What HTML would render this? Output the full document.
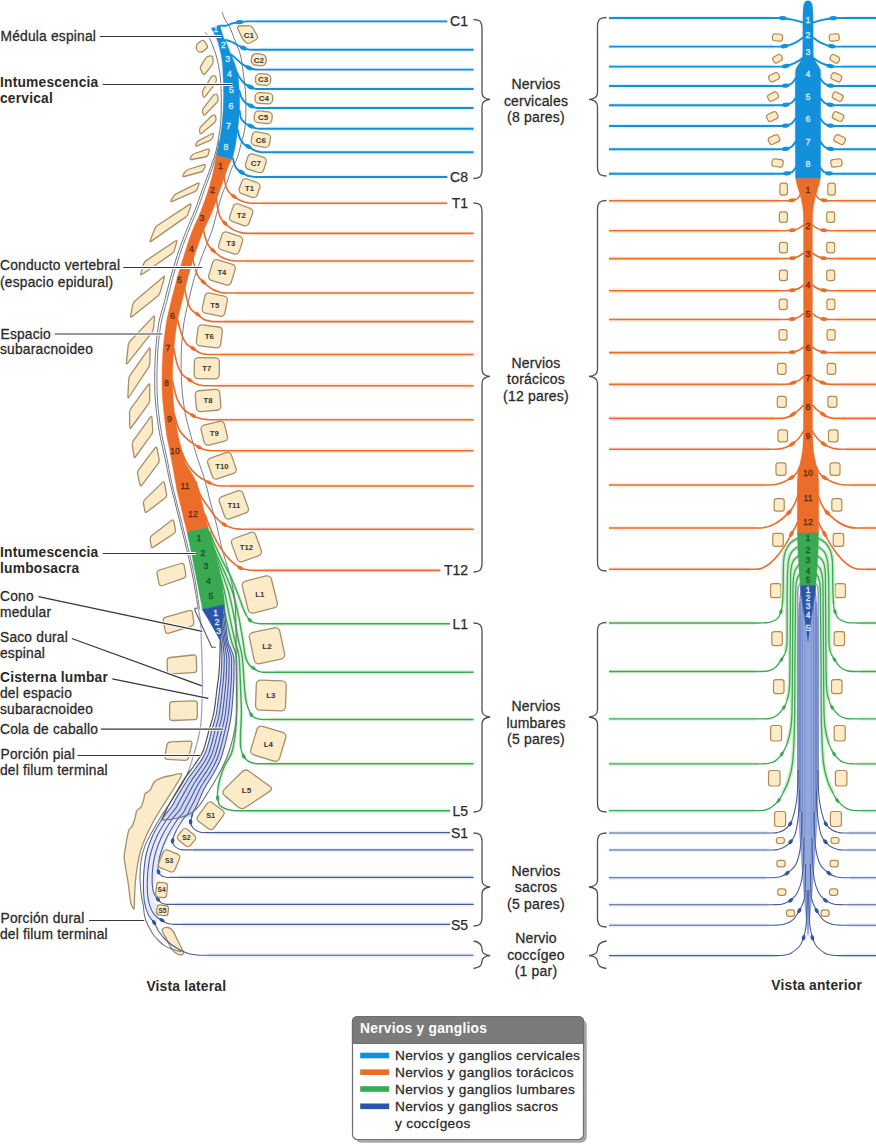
<!DOCTYPE html>
<html><head><meta charset="utf-8"><title>Medula espinal</title>
<style>
html,body{margin:0;padding:0;background:#fff;}
body{width:876px;height:1147px;overflow:hidden;font-family:"Liberation Sans",sans-serif;}
svg{display:block;font-family:"Liberation Sans",sans-serif;}
</style></head><body>
<svg width="876" height="1147" viewBox="0 0 876 1147">
<rect width="876" height="1147" fill="#ffffff"/>
<path d="M196.4 46.6Q196.5 44.2 198.5 42.9L201.5 40.8Q203.5 39.5 204.7 41.6L207 45.4Q208.2 47.5 206.2 48.9L202.8 51.4Q200.8 52.8 198.7 51.8L198.3 51.5Q196.2 50.5 196.3 48.1Z" fill="#fcebc9" stroke="#a3906a" stroke-width="1.3" />
<path d="M205.3 58.6Q206.5 56.5 208.9 56.1L210.1 55.9Q212.5 55.5 212.8 57.9L213.1 60.6Q213.4 63 212 64.9L205.4 73.6Q204 75.5 202.8 73.4L200.9 70.1Q199.7 68 200.9 65.9Z" fill="#fcebc9" stroke="#a3906a" stroke-width="1.3" />
<path d="M210.9 77.7Q212.2 75.7 213.7 75.7L214.1 75.7Q215.6 75.7 216.1 78L216.3 79.1Q216.8 81.4 215.3 83.3L205.2 96.6Q203.7 98.5 203.1 96.2L202.6 93.9Q202 91.6 203.3 89.6Z" fill="#fcebc9" stroke="#a3906a" stroke-width="1.3" />
<path d="M212.7 96.2Q214.2 94.3 215.6 94.2L216 94.1Q217.4 94 217.8 96.4L218.1 98.4Q218.5 100.8 216.8 102.5L205.4 114.5Q203.7 116.2 203.1 113.9L202.6 112.3Q202 110 203.5 108.1Z" fill="#fcebc9" stroke="#a3906a" stroke-width="1.3" />
<path d="M210.6 117Q212.3 115.3 213.8 115.2L214.1 115.1Q215.6 115 215.8 117.4L216 118.9Q216.2 121.3 214.3 122.8L202.1 133Q200.2 134.5 199.8 132.1L199.6 130.9Q199.2 128.5 200.9 126.8Z" fill="#fcebc9" stroke="#a3906a" stroke-width="1.3" />
<path d="M211.8 133.7Q213.9 132.6 213.3 134.9L212.8 137.1Q212.2 139.4 210 140.4L197.3 145.8Q195.1 146.8 195.9 144.5L196 144Q196.8 141.7 198.9 140.6Z" fill="#fcebc9" stroke="#a3906a" stroke-width="1.3" />
<path d="M207.6 149.2Q209.9 148.5 209.2 150.8L208.3 154.2Q207.6 156.5 205.2 157L191.8 159.5Q189.4 160 190.4 157.8L191.2 156.4Q192.2 154.2 194.5 153.5Z" fill="#fcebc9" stroke="#a3906a" stroke-width="1.3" />
<path d="M203.6 164.7Q205.9 164 205.1 166.2L203.9 169.2Q203.1 171.4 200.8 172L184.2 176.5Q181.9 177.1 183.1 175L184.7 172.3Q185.9 170.2 188.2 169.5Z" fill="#fcebc9" stroke="#a3906a" stroke-width="1.3" />
<path d="M197.5 183.3Q199.6 182.2 198.9 184.5L197.5 188.5Q196.8 190.8 194.6 191.7L172.2 201.3Q170 202.2 171.2 200.1L173.3 196.9Q174.5 194.8 176.6 193.7Z" fill="#fcebc9" stroke="#a3906a" stroke-width="1.3" />
<path d="M189.6 204.4Q191.6 203.1 190.9 205.4L188.3 213.4Q187.6 215.7 185.6 217.1L151.4 241.1Q149.4 242.5 150.3 240.3L154.8 228.7Q155.7 226.5 157.7 225.2Z" fill="#fcebc9" stroke="#a3906a" stroke-width="1.3" />
<path d="M175.4 241Q177.4 239.7 176.8 242L174.5 249.9Q173.9 252.2 171.9 253.6L142.3 274.2Q140.3 275.6 141 273.3L143.5 264.2Q144.2 261.9 146.2 260.6Z" fill="#fcebc9" stroke="#a3906a" stroke-width="1.3" />
<path d="M163.3 276.9Q165.1 275.3 164.4 277.6L160.1 292.4Q159.4 294.7 157.5 296.2L132.2 316.6Q130.3 318.1 130.7 315.7L132.7 305.1Q133.1 302.7 134.9 301.1Z" fill="#fcebc9" stroke="#a3906a" stroke-width="1.3" />
<path d="M153.1 316.9Q154.8 315.2 154.5 317.6L153.4 328.6Q153.1 331 151.6 332.9L127.7 363.1Q126.2 365 126.4 362.6L128.2 345.4Q128.4 343 130.1 341.3Z" fill="#fcebc9" stroke="#a3906a" stroke-width="1.3" />
<path d="M148.9 348.7Q150.3 346.7 150.2 349.1L149.8 363.2Q149.7 365.6 148.4 367.6L129.1 397Q127.8 399 127.9 396.6L128.7 379.5Q128.8 377.1 130.2 375.1Z" fill="#fcebc9" stroke="#a3906a" stroke-width="1.3" />
<path d="M148.3 384.7Q149.7 382.8 149.7 385.2L149.7 399.8Q149.7 402.2 148.3 404.1L131.3 427.5Q129.9 429.4 129.8 427L129.5 412.9Q129.4 410.5 130.8 408.6Z" fill="#fcebc9" stroke="#a3906a" stroke-width="1.3" />
<path d="M150.4 417.2Q151.8 415.3 152 417.7L152.7 430.1Q152.9 432.5 151.5 434.5L135.7 456.5Q134.3 458.5 134 456.1L132.3 444.9Q132 442.5 133.4 440.6Z" fill="#fcebc9" stroke="#a3906a" stroke-width="1.3" />
<path d="M155.1 447.9Q156.5 446 157 448.4L159.1 459.1Q159.6 461.5 158.2 463.4L141.9 485.1Q140.5 487 140 484.7L137.6 474.1Q137.1 471.8 138.5 469.9Z" fill="#fcebc9" stroke="#a3906a" stroke-width="1.3" />
<path d="M162.3 482.6Q164 480.9 164.5 483.3L166.6 494.2Q167.1 496.6 165.2 498.1L147.1 511.8Q145.2 513.3 144.8 510.9L143.5 503.7Q143.1 501.3 144.8 499.6Z" fill="#fcebc9" stroke="#a3906a" stroke-width="1.3" />
<path d="M171.5 520.5Q173.4 519.1 173.9 521.5L175.5 529.8Q176 532.2 174 533.5L153.4 547.1Q151.4 548.4 151.1 546L150.2 539.3Q149.9 536.9 151.8 535.5Z" fill="#fcebc9" stroke="#a3906a" stroke-width="1.3" />
<path d="M157.1 574Q156.5 570.9 159.6 570L180.6 563.5Q183.7 562.6 184.3 565.8L185.7 574Q186.3 577.2 183.3 578.3L162.6 585.5Q159.6 586.6 159 583.5Z" fill="#fcebc9" stroke="#a3906a" stroke-width="1.3" />
<path d="M163.4 621.1Q162.8 618 165.9 617.1L189 610.5Q192.1 609.6 192.5 612.8L193.8 622.1Q194.2 625.3 191.1 626.3L169 633.2Q165.9 634.2 165.3 631.1Z" fill="#fcebc9" stroke="#a3906a" stroke-width="1.3" />
<path d="M167.1 661Q167 657.8 170.2 657.5L193.1 655Q196.3 654.7 196.4 657.9L196.7 669.3Q196.8 672.5 193.6 672.7L170.7 673.8Q167.5 674 167.4 670.8Z" fill="#fcebc9" stroke="#a3906a" stroke-width="1.3" />
<path d="M169.6 705Q169.6 701.8 172.8 701.7L194.1 700.8Q197.3 700.7 197.3 703.9L197.3 716.4Q197.3 719.6 194.1 719.7L172.8 720.5Q169.6 720.6 169.6 717.4Z" fill="#fcebc9" stroke="#a3906a" stroke-width="1.3" />
<path d="M166.9 745.1Q167.5 742 170.7 741.9L189.4 741.1Q192.6 741 191.8 744.1L188.7 757.3Q187.9 760.4 184.7 760.3L167.6 759.4Q164.4 759.3 165 756.2Z" fill="#fcebc9" stroke="#a3906a" stroke-width="1.3" />
<path d="M181.7 774.2C182 775.9 176.2 784.7 173.9 788.5C171.6 792.3 167.3 798.7 164.7 802.9C162.1 807.1 156.6 815.6 154.2 820C151.8 824.4 148.2 831.4 146.4 835.6C144.6 839.8 141.7 847.1 140.5 851.3C139.3 855.5 137.9 862.8 137.2 867C136.5 871.2 135.6 878.9 135.3 882.7C135 886.5 134.8 892.3 134.6 895.8C134.4 899.3 134.5 908 134 908.9C133.5 909.8 131.5 905.9 130.7 902.4C129.9 898.9 128.8 887.4 128.1 882.7C127.4 878 126 870.5 125.5 867C125 863.5 124.1 859.7 124.2 856.6C124.3 853.5 125.5 847 126.1 843.5C126.7 840 127.9 832.7 128.7 830.4C129.5 828.1 131.1 828.2 132 826.5C132.9 824.8 134.7 819.4 135.3 817.3C135.9 815.2 135.8 812.2 136.6 810.8C137.4 809.4 140.2 808.5 141.2 806.9C142.2 805.3 143.3 800.7 143.8 799C144.3 797.3 144.2 795 145.1 793.8C146 792.6 149.1 791.5 150.3 789.9C151.5 788.3 152.8 783.6 154.2 782C155.6 780.4 158.5 779 160.8 778.1C163.1 777.2 168.5 776 171.3 775.5C174.1 775 181.4 772.5 181.7 774.2Z" fill="#fcebc9" stroke="#a3906a" stroke-width="1.3" />
<path d="M163 928.5C163.7 927.9 166.7 927.2 168 927.5C169.3 927.8 171.8 929.5 173 931C174.2 932.5 175.9 936.9 177 939C178.1 941.1 180.1 945.2 181 947C181.9 948.8 183.4 951.4 183.5 952.5C183.6 953.6 182.6 955 181.5 955C180.4 955 176.5 953.7 175 952.5C173.5 951.3 171.2 947.9 170 946C168.8 944.1 167 939.9 166 938C165 936.1 162.9 933.3 162.5 932C162.1 930.7 162.3 929.1 163 928.5Z" fill="#fcebc9" stroke="#a3906a" stroke-width="1.3" />
<path d="M215 545C216.2 547.5 219.5 555 222 560C224.5 565 227.3 569.5 229.9 575C232.5 580.5 235.2 587.3 237.4 592.8C239.6 598.3 241.5 604.2 243 608C244.5 611.8 245.9 614.2 246.5 615.5" fill="none" stroke="#d6efd6" stroke-width="3.6" />
<path d="M214.2 548.5C215.2 550.8 217.8 557.1 220 562C222.2 566.9 225 572.9 227.1 578C229.2 583.1 230.9 586.5 232.8 592.8C234.7 599.1 236.8 607.7 238.5 615.7C240.2 623.7 241.8 634.1 243 641C244.2 647.9 244.5 653.1 245.5 657C246.5 660.9 248.4 663.2 249 664.5" fill="none" stroke="#d6efd6" stroke-width="3.6" />
<path d="M213.8 550C214.6 552.2 216.7 558 218.5 563C220.3 568 222.8 575 224.5 580C226.2 585 227.2 586.8 228.8 592.8C230.4 598.8 232.3 607.7 233.9 615.7C235.5 623.7 237.2 634.1 238.6 641C240 647.9 241.2 649 242.2 657C243.2 665 243.9 681.3 244.6 689C245.3 696.7 246.2 700.7 246.5 703" fill="none" stroke="#d6efd6" stroke-width="3.6" />
<path d="M213.5 552C214.2 554.2 216.2 560.3 217.5 565C218.8 569.7 220.3 575.4 221.5 580C222.7 584.6 223.5 586.8 224.8 592.8C226.1 598.8 227.7 607.7 229.4 615.7C231.1 623.7 233.4 634.1 235 641C236.6 647.9 238.1 649 239 657C239.9 665 240.2 679.7 240.6 689C241 698.3 241.4 705.3 241.4 713C241.4 720.7 240.6 729.2 240.5 735C240.4 740.8 240.8 745.8 240.8 748" fill="none" stroke="#d6efd6" stroke-width="3.6" />
<path d="M213 553C213.6 555.2 215.3 561.5 216.5 566C217.7 570.5 218.9 575.2 220 580C221.1 584.8 222.1 589 223 595C223.9 601 224.2 608 225.6 615.7C227 623.4 229.6 634.1 231.4 641C233.2 647.9 235.3 649 236.2 657C237.1 665 236.7 679.7 236.8 689C236.9 698.3 236.8 706.4 236.6 713C236.4 719.6 236.5 722.1 235.8 728.5C235.1 734.9 234.1 745 232.2 751.3C230.3 757.5 226.5 761.6 224.5 766C222.5 770.4 221.5 773.6 220.4 777.4C219.3 781.2 218.3 787.1 217.9 789" fill="none" stroke="#d6efd6" stroke-width="3.6" />
<path d="M205.1 32.3C206 33.5 208.8 36.8 210.3 39.7C211.8 42.7 213.2 46.8 214.3 50C215.4 53.2 216.3 55.7 217.1 59C217.9 62.3 218.7 66.5 219.3 70C219.9 73.5 220.3 75.2 220.6 80C220.9 84.8 221.3 91.6 221.3 98.5C221.3 105.4 221.2 115.2 220.8 121.3C220.4 127.4 219.8 130.2 219 135C218.2 139.8 217.5 145.2 216.3 150C215.1 154.8 213.3 159.7 211.8 164C210.3 168.3 209.2 171.3 207.5 176C205.8 180.7 203.6 186.3 201.5 192C199.4 197.7 197.7 203.2 195 210C192.3 216.8 188.4 225.2 185.4 232.8C182.4 240.4 179.6 248.1 177.1 255.7C174.6 263.3 172.4 270.9 170.3 278.5C168.2 286.1 166.4 293.9 164.5 301.3C162.6 308.7 160.2 315.4 158.8 322.8C157.4 330.2 156.7 338.1 156 345.7C155.3 353.3 155 360.9 154.8 368.5C154.6 376.1 154.5 383.9 154.8 391.3C155.1 398.7 155.6 405.4 156.5 412.8C157.4 420.2 158.6 428.1 160 435.7C161.4 443.3 163.5 451.1 165.1 458.5C166.7 465.9 167.7 472.6 169.4 480C171.1 487.4 173.2 495.2 175.1 502.8C177 510.4 178.9 518.1 180.8 525.7C182.7 533.3 184.7 540.9 186.5 548.5C188.3 556.1 190.2 564 191.7 571.3C193.2 578.5 194.4 585.6 195.5 592C196.6 598.4 197.8 606.7 198.3 609.6" fill="none" stroke="#7b7572" stroke-width="1" />
<path d="M219 140C218.8 141.7 218.4 146 217.5 150C216.6 154 214.8 159.7 213.5 164C212.2 168.3 211.1 171.3 209.5 176C207.9 180.7 205.8 186.3 203.7 192C201.6 197.7 199.9 203.2 197.2 210C194.5 216.8 190.7 225.2 187.7 232.8C184.7 240.4 181.9 248.1 179.4 255.7C176.9 263.3 174.6 270.9 172.5 278.5C170.4 286.1 168.7 293.9 166.8 301.3C164.9 308.7 162.5 315.4 161.1 322.8C159.7 330.2 158.9 338.1 158.2 345.7C157.5 353.3 157.3 360.9 157.1 368.5C156.9 376.1 156.8 383.9 157.1 391.3C157.3 398.7 157.8 405.4 158.6 412.8C159.4 420.2 160.6 428.1 162 435.7C163.4 443.3 165.5 451.1 167 458.5C168.5 465.9 169.5 472.6 171.1 480C172.7 487.4 174.9 495.2 176.8 502.8C178.7 510.4 180.6 518.1 182.5 525.7C184.4 533.3 186.4 540.9 188.2 548.5C190 556.1 191.9 564 193.4 571.3C194.9 578.5 196 585.6 197 592C198 598.4 199.2 606.7 199.6 609.6" fill="none" stroke="#70809a" stroke-width="1" />
<path d="M198.3 609.6C198.7 611.7 200.1 616.9 200.6 622C201.1 627.1 201.1 633.7 201.3 640C201.5 646.3 201.8 652 202 660C202.2 668 202.5 680.3 202.5 688C202.5 695.7 202.1 700.2 201.8 706C201.6 711.8 201.5 718.2 201 723C200.5 727.8 199.7 731.5 199 735C198.3 738.5 197.8 740.3 196.8 744C195.8 747.7 194.3 752.7 193 757C191.7 761.3 189.7 767.8 189 770" fill="none" stroke="#a5a3c0" stroke-width="1.3" />
<path d="M189 770C187.8 772.5 184.7 779.5 181.5 785C178.3 790.5 173.3 797.9 170 803C166.7 808.1 164.5 811 161.5 815.8C158.5 820.6 154.8 827 152 832C149.2 837 146.8 841.2 145 845.9C143.2 850.6 142 854.8 141.2 860C140.4 865.2 140 871.6 140 877.4C140 883.2 140.8 890.4 141.3 895C141.8 899.6 142.5 901.1 143.2 905C143.8 908.9 143.8 914 145.2 918.5C146.6 923 149.7 928.6 151.8 932.2C153.9 935.8 155.8 937.7 158 940C160.2 942.3 162.3 944.3 164.8 945.9C167.3 947.5 170.3 948.5 173 949.5C175.7 950.5 179.8 951.2 181.2 951.6" fill="none" stroke="#76757d" stroke-width="1.1" />
<path d="M222 12C222.5 13.3 223.8 17.2 225.1 19.7C226.4 22.2 228.2 24 229.7 27.1C231.2 30.2 232.7 34.7 234.2 38.5C235.7 42.3 237.6 46.4 238.8 50C240 53.6 240.7 55.7 241.5 60C242.3 64.3 242.9 70.7 243.6 75.7C244.2 80.8 245 85.4 245.4 90.3C245.8 95.2 245.9 99.8 245.9 105C245.9 110.2 245.9 116.6 245.6 121.3C245.3 126 244.7 129.6 244 133C243.3 136.4 242.5 138.2 241.6 141.7C240.7 145.1 239.6 150.3 238.6 153.7C237.6 157.1 236.6 159.9 235.5 162.2C234.4 164.5 233.3 164.3 232 167.4C230.7 170.5 228.2 178.7 227.5 181" fill="none" stroke="#7b7572" stroke-width="1" />
<path d="M227.5 181C226.6 183.3 223.7 190 222 194.8C220.3 199.6 219.4 203.7 217.6 210C215.8 216.3 213.9 225.2 211.3 232.8C208.7 240.4 205 248.1 202.2 255.7C199.3 263.3 196.5 270.9 194.2 278.5C191.9 286.1 190.2 293.9 188.5 301.3C186.8 308.7 185.1 315.4 183.9 322.8C182.8 330.2 182.1 338.1 181.6 345.7C181.1 353.3 181 360.9 181.1 368.5C181.2 376.1 181.5 383.9 182.2 391.3C182.9 398.7 183.7 405.4 185.1 412.8C186.5 420.2 188.7 428.1 190.8 435.7C192.9 443.3 195.3 451.1 197.6 458.5C199.9 465.9 202.7 472.6 204.8 480C207 487.4 208.5 495.2 210.5 502.8C212.5 510.4 214.9 518.1 216.8 525.7C218.7 533.3 219.9 540.9 221.9 548.5C223.9 556.1 227.1 565.2 228.8 571.3C230.5 577.4 231.6 582.7 232.2 585" fill="none" stroke="#70809a" stroke-width="1" />
<line x1="256" y1="21.4" x2="447.3" y2="21.4" stroke="#e3f4fc" stroke-width="4.4"/>
<path d="M219.7 25.6C220.7 25.6 223.8 26 225.7 25.7C227.6 25.4 229.7 24.2 231.4 23.7C233.1 23.2 234.6 22.9 236 22.6C237.4 22.4 238.3 22.4 239.6 22.2C240.9 22 242.6 21.7 244 21.6C245.4 21.5 247.3 21.4 248 21.4L447.3 21.4" fill="none" stroke="#1290d9" stroke-width="1.9" stroke-linejoin="round"/>
<ellipse cx="239.6" cy="22.2" rx="3.8" ry="2.1" fill="#1290d9" transform="rotate(-7.1 239.6 22.2)"/>
<line x1="260" y1="49.7" x2="473.6" y2="49.7" stroke="#e3f4fc" stroke-width="4.4"/>
<path d="M225.1 39.7C226.2 40.1 230 41.1 232 42C234 42.9 235.2 43.8 237.1 44.8C239 45.8 241.6 47.2 243.4 48C245.2 48.8 246.6 49.1 248 49.4C249.4 49.7 251.3 49.7 252 49.7L473.6 49.7" fill="none" stroke="#1290d9" stroke-width="1.9" stroke-linejoin="round"/>
<ellipse cx="243.4" cy="48" rx="3.8" ry="2.1" fill="#1290d9" transform="rotate(22.9 243.4 48)"/>
<line x1="266" y1="69.6" x2="473.6" y2="69.6" stroke="#e3f4fc" stroke-width="4.4"/>
<path d="M230.5 54C231.4 54.8 234.1 56.9 236 58.6C237.9 60.3 239.8 62.5 242 64C244.2 65.5 247 66.9 249 67.8C251 68.7 252.5 69 254 69.3C255.5 69.6 257.3 69.5 258 69.6L473.6 69.6" fill="none" stroke="#1290d9" stroke-width="1.9" stroke-linejoin="round"/>
<ellipse cx="249" cy="67.8" rx="3.8" ry="2.1" fill="#1290d9" transform="rotate(23.8 249 67.8)"/>
<line x1="267" y1="89" x2="473.6" y2="89" stroke="#e3f4fc" stroke-width="4.4"/>
<path d="M236.3 71C236.8 72.1 238.1 75.4 239.5 77.5C240.9 79.6 242.7 81.9 244.5 83.5C246.3 85.1 248.6 86.1 250.3 87C252.1 87.9 253.6 88.4 255 88.7C256.4 89 258.3 89 259 89L473.6 89" fill="none" stroke="#1290d9" stroke-width="1.9" stroke-linejoin="round"/>
<ellipse cx="250.3" cy="87" rx="3.8" ry="2.1" fill="#1290d9" transform="rotate(26.3 250.3 87)"/>
<line x1="267.5" y1="108" x2="473.6" y2="108" stroke="#e3f4fc" stroke-width="4.4"/>
<path d="M239.2 90C239.6 91.2 240.4 95.4 241.5 97.5C242.6 99.6 243.9 101.4 245.5 102.8C247.1 104.2 249.2 105.1 250.9 105.9C252.7 106.7 254.6 107.4 256 107.7C257.4 108 258.9 108 259.5 108L473.6 108" fill="none" stroke="#1290d9" stroke-width="1.9" stroke-linejoin="round"/>
<ellipse cx="250.9" cy="105.9" rx="3.8" ry="2.1" fill="#1290d9" transform="rotate(25 250.9 105.9)"/>
<line x1="268" y1="128.8" x2="473.6" y2="128.8" stroke="#e3f4fc" stroke-width="4.4"/>
<path d="M239.5 110C239.8 111.4 240.1 116.3 241.1 118.5C242.1 120.7 243.7 122 245.3 123.3C246.9 124.6 249.1 125.3 250.9 126.2C252.7 127.1 254.5 128 256 128.4C257.5 128.8 259.3 128.7 260 128.8L473.6 128.8" fill="none" stroke="#1290d9" stroke-width="1.9" stroke-linejoin="round"/>
<ellipse cx="250.9" cy="126.2" rx="3.8" ry="2.1" fill="#1290d9" transform="rotate(25.5 250.9 126.2)"/>
<line x1="272" y1="152.3" x2="473.6" y2="152.3" stroke="#e3f4fc" stroke-width="4.4"/>
<path d="M237.6 129.3C237.9 130.7 238.7 135.2 239.6 137.6C240.5 139.9 241.8 141.9 243.2 143.4C244.6 144.9 246.5 145.4 248.3 146.5C250.1 147.6 252.1 149.3 254 150.2C255.9 151.1 258.3 151.7 260 152C261.7 152.3 263.3 152.2 264 152.3L473.6 152.3" fill="none" stroke="#1290d9" stroke-width="1.9" stroke-linejoin="round"/>
<ellipse cx="248.3" cy="146.5" rx="3.8" ry="2.1" fill="#1290d9" transform="rotate(32.2 248.3 146.5)"/>
<line x1="265" y1="177" x2="447.3" y2="177" stroke="#e3f4fc" stroke-width="4.4"/>
<path d="M232.9 158C233.2 159.1 233.7 162.5 234.4 164.3C235.1 166.1 235.8 167.7 237 169C238.2 170.3 239.8 171.2 241.5 172.3C243.2 173.4 244.9 174.7 247 175.5C249.1 176.3 252.3 176.7 254 176.9C255.7 177.2 256.5 177 257 177L447.3 177" fill="none" stroke="#1290d9" stroke-width="1.9" stroke-linejoin="round"/>
<ellipse cx="241.5" cy="172.3" rx="3.8" ry="2.1" fill="#1290d9" transform="rotate(33 241.5 172.3)"/>
<line x1="263" y1="203.3" x2="447.3" y2="203.3" stroke="#fdece1" stroke-width="4.4"/>
<path d="M223.8 174C224.1 175.9 224.8 182.6 225.7 185.7C226.6 188.8 227.9 190.8 229.3 192.6C230.7 194.4 232 195 233.9 196.4C235.8 197.8 238.5 199.7 241 200.8C243.5 201.9 246.7 202.6 249 203C251.3 203.4 254 203.2 255 203.3L447.3 203.3" fill="none" stroke="#ec6c2a" stroke-width="1.6" stroke-linejoin="round"/>
<ellipse cx="233.9" cy="196.4" rx="3.2" ry="1.8" fill="#ec6c2a" transform="rotate(35 233.9 196.4)"/>
<line x1="256" y1="233.4" x2="473.6" y2="233.4" stroke="#fdece1" stroke-width="4.4"/>
<path d="M216.3 197C216.6 199.1 217.2 206 217.9 209.4C218.6 212.8 219.3 215.3 220.5 217.6C221.7 219.9 222.9 221.3 225 223.3C227.1 225.3 230.2 228 233 229.6C235.8 231.2 239.5 232.3 242 232.9C244.5 233.5 247 233.3 248 233.4L473.6 233.4" fill="none" stroke="#ec6c2a" stroke-width="1.6" stroke-linejoin="round"/>
<ellipse cx="225" cy="223.3" rx="3.2" ry="1.8" fill="#ec6c2a" transform="rotate(43.8 225 223.3)"/>
<line x1="246" y1="261" x2="473.6" y2="261" stroke="#fdece1" stroke-width="4.4"/>
<path d="M202.2 224.8C202.8 227.1 204.5 235.1 205.6 238.5C206.7 241.9 207.2 243.5 208.5 245.5C209.8 247.5 210.8 248.5 213.1 250.5C215.3 252.5 219 255.8 222 257.5C225 259.2 228.3 259.9 231 260.5C233.7 261.1 236.8 260.9 238 261L473.6 261" fill="none" stroke="#ec6c2a" stroke-width="1.6" stroke-linejoin="round"/>
<ellipse cx="213.1" cy="250.5" rx="3.2" ry="1.8" fill="#ec6c2a" transform="rotate(41.6 213.1 250.5)"/>
<line x1="236" y1="293" x2="473.6" y2="293" stroke="#fdece1" stroke-width="4.4"/>
<path d="M192 255.7C192.7 258.4 194.8 268 196 271.6C197.2 275.2 197.8 275.8 199 277.5C200.2 279.2 201.2 280.1 203.4 282C205.6 283.9 209.1 287.2 212 289C214.9 290.8 218.3 291.8 221 292.5C223.7 293.2 226.8 292.9 228 293L473.6 293" fill="none" stroke="#ec6c2a" stroke-width="1.6" stroke-linejoin="round"/>
<ellipse cx="203.4" cy="282" rx="3.2" ry="1.8" fill="#ec6c2a" transform="rotate(41.5 203.4 282)"/>
<line x1="224" y1="321.6" x2="473.6" y2="321.6" stroke="#fdece1" stroke-width="4.4"/>
<path d="M184 284.2C184.5 286.7 185.6 294.8 186.8 299C188 303.2 189.4 306.9 191.2 309.5C193 312.1 195.5 312.6 197.6 314.3C199.7 316 201.7 318.3 204 319.5C206.3 320.7 209.3 321 211.3 321.4C213.3 321.8 215.2 321.6 216 321.6L473.6 321.6" fill="none" stroke="#ec6c2a" stroke-width="1.6" stroke-linejoin="round"/>
<ellipse cx="197.6" cy="314.3" rx="3.2" ry="1.8" fill="#ec6c2a" transform="rotate(38 197.6 314.3)"/>
<line x1="220" y1="354.5" x2="473.6" y2="354.5" stroke="#fdece1" stroke-width="4.4"/>
<path d="M177.1 318C177.8 320.7 180.1 330 181.6 334.2C183.1 338.4 184.3 341 186.2 343.4C188.1 345.8 190.8 346.9 193.1 348.5C195.4 350.1 197.7 352 200 353C202.3 354 204.8 354.1 206.8 354.4C208.8 354.6 211.1 354.5 212 354.5L473.6 354.5" fill="none" stroke="#ec6c2a" stroke-width="1.6" stroke-linejoin="round"/>
<ellipse cx="193.1" cy="348.5" rx="3.2" ry="1.8" fill="#ec6c2a" transform="rotate(34.8 193.1 348.5)"/>
<line x1="218" y1="385.8" x2="473.6" y2="385.8" stroke="#fdece1" stroke-width="4.4"/>
<path d="M173.7 348C174.3 350.6 175.7 359.5 177.1 363.9C178.5 368.3 180.1 371.5 182.2 374.2C184.3 376.9 187.1 378.2 189.6 379.9C192.1 381.6 194.5 383.3 197 384.3C199.5 385.3 202.3 385.4 204.5 385.7C206.7 385.9 209.1 385.8 210 385.8L473.6 385.8" fill="none" stroke="#ec6c2a" stroke-width="1.6" stroke-linejoin="round"/>
<ellipse cx="189.6" cy="379.9" rx="3.2" ry="1.8" fill="#ec6c2a" transform="rotate(34.3 189.6 379.9)"/>
<line x1="217" y1="419.7" x2="473.6" y2="419.7" stroke="#fdece1" stroke-width="4.4"/>
<path d="M172.5 381C173.3 384 175.2 394.4 177.1 399.1C179 403.8 181.2 406.6 183.9 409.4C186.6 412.2 190.2 414.1 193.1 415.7C195.9 417.3 198.3 418.1 201 418.8C203.7 419.5 207.7 419.6 209 419.7L473.6 419.7" fill="none" stroke="#ec6c2a" stroke-width="1.6" stroke-linejoin="round"/>
<ellipse cx="193.1" cy="415.7" rx="3.2" ry="1.8" fill="#ec6c2a" transform="rotate(28.8 193.1 415.7)"/>
<line x1="219.3" y1="450.7" x2="473.6" y2="450.7" stroke="#fdece1" stroke-width="4.4"/>
<path d="M174.2 414C175.1 416.7 177 425.6 179.4 430C181.8 434.4 185.3 437.3 188.5 440.2C191.7 443.1 196.1 445.5 198.8 447.1C201.6 448.7 202.9 449.2 205 449.8C207.1 450.4 210.2 450.6 211.3 450.7L473.6 450.7" fill="none" stroke="#ec6c2a" stroke-width="1.6" stroke-linejoin="round"/>
<ellipse cx="198.8" cy="447.1" rx="3.2" ry="1.8" fill="#ec6c2a" transform="rotate(30.2 198.8 447.1)"/>
<line x1="230" y1="486" x2="473.6" y2="486" stroke="#fdece1" stroke-width="4.4"/>
<path d="M180.5 449C181.7 451.5 184.6 459.8 187.4 464.2C190.2 468.6 194 472.6 197.6 475.6C201.2 478.7 205.9 480.9 209 482.5C212.1 484.1 213.8 484.6 216 485.2C218.2 485.8 221 485.9 222 486L473.6 486" fill="none" stroke="#ec6c2a" stroke-width="1.6" stroke-linejoin="round"/>
<ellipse cx="209" cy="482.5" rx="3.2" ry="1.8" fill="#ec6c2a" transform="rotate(27.6 209 482.5)"/>
<line x1="249.3" y1="529.3" x2="473.6" y2="529.3" stroke="#fdece1" stroke-width="4.4"/>
<path d="M195.7 481C196.4 483.3 197.9 490.2 200.2 494.8C202.5 499.4 206.7 504.7 209.4 508.5C212.1 512.3 213.7 515 216.2 517.7C218.7 520.4 221.4 522.7 224.2 524.5C227 526.3 230.2 527.5 233 528.3C235.8 529.1 239.9 529.1 241.3 529.3L473.6 529.3" fill="none" stroke="#ec6c2a" stroke-width="1.6" stroke-linejoin="round"/>
<ellipse cx="224.2" cy="524.5" rx="3.2" ry="1.8" fill="#ec6c2a" transform="rotate(32.2 224.2 524.5)"/>
<line x1="264" y1="570.4" x2="440.3" y2="570.4" stroke="#fdece1" stroke-width="4.4"/>
<path d="M204.8 514C205.9 516.9 208.9 525.6 211.6 531.4C214.3 537.1 217.8 543.8 220.8 548.5C223.9 553.2 226.7 556.7 229.9 559.9C233.1 563.1 237 566.2 240.2 567.9C243.4 569.6 246.4 569.6 249 570C251.6 570.4 254.8 570.3 256 570.4L440.3 570.4" fill="none" stroke="#ec6c2a" stroke-width="1.6" stroke-linejoin="round"/>
<ellipse cx="240.2" cy="567.9" rx="3.2" ry="1.8" fill="#ec6c2a" transform="rotate(27.9 240.2 567.9)"/>
<line x1="271" y1="623.8" x2="450" y2="623.8" stroke="#e3f5e3" stroke-width="4.4"/>
<path d="M209.5 531C210.4 533.3 212.9 540.2 215 545C217.1 549.8 219.5 555 222 560C224.5 565 227.3 569.5 229.9 575C232.5 580.5 235.2 587.3 237.4 592.8C239.6 598.3 241.5 604.2 243 608C244.5 611.8 245.3 613.5 246.5 615.5C247.7 617.5 248.7 619 249.9 620.2C251.2 621.4 252.5 622 254 622.6C255.5 623.2 257.5 623.4 259 623.6C260.5 623.8 262.3 623.8 263 623.8L450 623.8" fill="none" stroke="#3aaa52" stroke-width="1.4" stroke-linejoin="round"/>
<ellipse cx="249.9" cy="620.2" rx="2.7" ry="1.7" fill="#3aaa52" transform="rotate(43.4 249.9 620.2)"/>
<line x1="274" y1="672.3" x2="473.6" y2="672.3" stroke="#e3f5e3" stroke-width="4.4"/>
<path d="M209.5 533C210.3 535.6 212.4 543.7 214.2 548.5C215.9 553.3 217.8 557.1 220 562C222.2 566.9 225 572.9 227.1 578C229.2 583.1 230.9 586.5 232.8 592.8C234.7 599.1 236.8 607.7 238.5 615.7C240.2 623.7 241.8 634.1 243 641C244.2 647.9 244.5 653.1 245.5 657C246.5 660.9 247.7 662.7 249 664.5C250.3 666.3 251.7 666.9 253.2 668C254.7 669.1 256.4 670.5 258 671.2C259.6 671.9 261.7 672 263 672.2C264.3 672.4 265.5 672.3 266 672.3L473.6 672.3" fill="none" stroke="#3aaa52" stroke-width="1.4" stroke-linejoin="round"/>
<ellipse cx="253.2" cy="668" rx="2.7" ry="1.7" fill="#3aaa52" transform="rotate(36.7 253.2 668)"/>
<line x1="271" y1="719.5" x2="473.6" y2="719.5" stroke="#e3f5e3" stroke-width="4.4"/>
<path d="M209.5 535C210.2 537.5 212.3 545.3 213.8 550C215.3 554.7 216.7 558 218.5 563C220.3 568 222.8 575 224.5 580C226.2 585 227.2 586.8 228.8 592.8C230.4 598.8 232.3 607.7 233.9 615.7C235.5 623.7 237.2 634.1 238.6 641C240 647.9 241.2 649 242.2 657C243.2 665 243.9 681.3 244.6 689C245.3 696.7 245.4 698.7 246.5 703C247.6 707.3 249.6 712.2 251.3 714.8C253.1 717.4 255.1 717.8 257 718.6C258.9 719.4 262 719.4 263 719.5L473.6 719.5" fill="none" stroke="#3aaa52" stroke-width="1.4" stroke-linejoin="round"/>
<ellipse cx="251.3" cy="714.8" rx="2.7" ry="1.7" fill="#3aaa52" transform="rotate(56.1 251.3 714.8)"/>
<line x1="268" y1="763.8" x2="473.6" y2="763.8" stroke="#e3f5e3" stroke-width="4.4"/>
<path d="M209.5 537C210.2 539.5 212.2 547.3 213.5 552C214.8 556.7 216.2 560.3 217.5 565C218.8 569.7 220.3 575.4 221.5 580C222.7 584.6 223.5 586.8 224.8 592.8C226.1 598.8 227.7 607.7 229.4 615.7C231.1 623.7 233.4 634.1 235 641C236.6 647.9 238.1 649 239 657C239.9 665 240.2 679.7 240.6 689C241 698.3 241.4 705.3 241.4 713C241.4 720.7 240.6 729.2 240.5 735C240.4 740.8 240.3 744.5 240.8 748C241.3 751.5 242.3 754 243.7 756.3C245.1 758.6 247.1 760.4 249 761.6C250.9 762.8 253.2 763.1 255 763.5C256.8 763.9 259.2 763.8 260 763.8L473.6 763.8" fill="none" stroke="#3aaa52" stroke-width="1.4" stroke-linejoin="round"/>
<ellipse cx="243.7" cy="756.3" rx="2.7" ry="1.7" fill="#3aaa52" transform="rotate(58.9 243.7 756.3)"/>
<line x1="247.6" y1="810.7" x2="450" y2="810.7" stroke="#e3f5e3" stroke-width="4.4"/>
<path d="M209.5 539C210.1 541.3 211.8 548.5 213 553C214.2 557.5 215.3 561.5 216.5 566C217.7 570.5 218.9 575.2 220 580C221.1 584.8 222.1 589 223 595C223.9 601 224.2 608 225.6 615.7C227 623.4 229.6 634.1 231.4 641C233.2 647.9 235.3 649 236.2 657C237.1 665 236.7 679.7 236.8 689C236.9 698.3 236.8 706.4 236.6 713C236.4 719.6 236.5 722.1 235.8 728.5C235.1 734.9 234.1 745 232.2 751.3C230.3 757.5 226.5 761.6 224.5 766C222.5 770.4 221.5 773.6 220.4 777.4C219.3 781.2 218.4 785.6 217.9 789C217.4 792.4 217.4 795.3 217.7 798C218 800.7 218.1 803.2 219.5 805C220.9 806.8 223.7 808.1 225.9 809C228.2 809.9 230.7 810.2 233 810.5C235.3 810.8 238.5 810.7 239.6 810.7L450 810.7" fill="none" stroke="#3aaa52" stroke-width="1.4" stroke-linejoin="round"/>
<ellipse cx="217.7" cy="798" rx="2.7" ry="1.7" fill="#3aaa52" transform="rotate(84.3 217.7 798)"/>
<path d="M220.6 638C220.7 639.6 221.3 644.4 221.6 647.6C221.8 650.8 221.9 654 221.9 657.1C221.9 660.2 221.7 663.3 221.6 666.3C221.5 669.3 221.3 672.6 221.1 675.2C220.9 677.8 220.7 679.6 220.5 682C220.2 684.3 220 686.1 219.6 689.3C219.2 692.5 218.7 697.2 218.1 701.2C217.6 705.2 217 710.1 216.4 713.5C215.7 716.9 215.1 719 214.3 721.6C213.6 724.2 212.9 726 212 729.2C211.1 732.4 210.2 736.8 209.1 740.7C208 744.5 206.9 749.1 205.5 752.3C204.2 755.6 202.7 758 201.2 760.4C199.8 762.7 198.3 764.5 196.8 766.6C195.3 768.7 193.8 770.9 192.3 772.9C190.8 775 189.3 776.9 187.9 779C186.5 781.1 185.1 783.4 183.7 785.7C182.3 787.9 180.9 790.3 179.6 792.5C178.2 794.8 176.9 797.1 175.6 799.3C174.3 801.6 174.1 802.8 171.7 806.3C169.4 809.7 164.7 815 161.5 820C158.3 825 155 830.5 152.5 836C150 841.5 147.9 847.3 146.5 853C145.1 858.7 144.5 864.3 144 870C143.5 875.7 143.3 881.5 143.4 887C143.5 892.5 143.8 898.3 144.6 903C145.4 907.7 146.9 911.7 148.5 915C150.1 918.3 153.2 921.3 154.1 922.6L161 919.5C160.5 918.2 159.2 916.1 158 912C156.8 907.9 154.6 899.5 154 895C153.4 890.5 153.7 890 154.5 885C155.3 880 157.3 870.8 158.7 865C160.1 859.2 161.1 854.8 163 850C164.9 845.2 167.5 840 170 836C172.5 832 175.2 829 178 826C180.8 823 184.5 819.9 187 818C189.5 816.1 192.1 814.7 192.8 814.5C193.5 814.3 191 817.4 191.2 816.7C191.5 816 193.2 812.5 194.2 810.3C195.3 808.1 196.6 805.8 197.7 803.5C198.8 801.1 199.8 798.5 200.8 796.2C201.8 793.9 202.6 791.7 203.6 789.7C204.7 787.6 205.7 786.2 207 784C208.3 781.8 210.1 779 211.5 776.7C212.9 774.3 213.9 773.1 215.4 770C217 767 219.2 762.8 220.8 758.6C222.3 754.4 223.7 749 224.9 744.9C226 740.7 226.9 736.7 227.6 733.6C228.3 730.5 228.7 729 229.3 726.2C229.8 723.3 230.6 720.1 231.1 716.3C231.6 712.4 232.1 707.2 232.4 703C232.8 698.8 233 694.3 233.3 691.1C233.5 687.9 233.6 686.3 233.7 683.8C233.8 681.4 234 679.2 234 676.4C234.1 673.6 234.1 670.2 234 667C234 663.9 234.4 660.8 233.8 657.5C233.2 654.3 231.5 650.5 230.5 647.7C229.6 644.9 229.1 647.3 227.9 640.5C226.8 633.7 224.4 612.6 223.7 607Z" fill="#e6eaf9" stroke="none" stroke-width="1" />
<path d="M220.6 638C220.7 639.6 221.3 644.4 221.6 647.6C221.8 650.8 221.9 654 221.9 657.1C221.9 660.2 221.7 663.3 221.6 666.3C221.5 669.3 221.3 672.6 221.1 675.2C220.9 677.8 220.7 679.6 220.5 682C220.2 684.3 220 686.1 219.6 689.3C219.2 692.5 218.7 697.2 218.1 701.2C217.6 705.2 217 710.1 216.4 713.5C215.7 716.9 215.1 719 214.3 721.6C213.6 724.2 212.9 726 212 729.2C211.1 732.4 210.2 736.8 209.1 740.7C208 744.5 206.9 749.1 205.5 752.3C204.2 755.6 202.7 758 201.2 760.4C199.8 762.7 198.3 764.5 196.8 766.6C195.3 768.7 193.8 770.9 192.3 772.9C190.8 775 189.3 776.9 187.9 779C186.5 781.1 185.1 783.4 183.7 785.7C182.3 787.9 180.9 790.3 179.6 792.5C178.2 794.8 176.9 797.1 175.6 799.3C174.3 801.6 174.1 802.8 171.7 806.3C169.4 809.7 163.2 817.7 161.5 820L187 818C188 817.4 192.1 814.7 192.8 814.5C193.5 814.3 191 817.4 191.2 816.7C191.5 816 193.2 812.5 194.2 810.3C195.3 808.1 196.6 805.8 197.7 803.5C198.8 801.1 199.8 798.5 200.8 796.2C201.8 793.9 202.6 791.7 203.6 789.7C204.7 787.6 205.7 786.2 207 784C208.3 781.8 210.1 779 211.5 776.7C212.9 774.3 213.9 773.1 215.4 770C217 767 219.2 762.8 220.8 758.6C222.3 754.4 223.7 749 224.9 744.9C226 740.7 226.9 736.7 227.6 733.6C228.3 730.5 228.7 729 229.3 726.2C229.8 723.3 230.6 720.1 231.1 716.3C231.6 712.4 232.1 707.2 232.4 703C232.8 698.8 233 694.3 233.3 691.1C233.5 687.9 233.6 686.3 233.7 683.8C233.8 681.4 234 679.2 234 676.4C234.1 673.6 234.1 670.2 234 667C234 663.9 234.4 660.8 233.8 657.5C233.2 654.3 231.5 650.5 230.5 647.7C229.6 644.9 229.1 647.3 227.9 640.5C226.8 633.7 224.4 612.6 223.7 607Z" fill="#d0d8f4" stroke="none" stroke-width="1" />
<line x1="214" y1="832.6" x2="450" y2="832.6" stroke="#eceffa" stroke-width="4.4"/>
<path d="M223.7 607C224.4 612.6 226.8 633.7 227.9 640.5C229.1 647.3 229.6 644.9 230.5 647.7C231.5 650.5 233.2 654.3 233.8 657.5C234.4 660.8 234 663.9 234 667C234.1 670.2 234.1 673.6 234 676.4C234 679.2 233.8 681.4 233.7 683.8C233.6 686.3 233.5 687.9 233.3 691.1C233 694.3 232.8 698.8 232.4 703C232.1 707.2 231.6 712.4 231.1 716.3C230.6 720.1 229.8 723.3 229.3 726.2C228.7 729 228.3 730.5 227.6 733.6C226.9 736.7 226 740.7 224.9 744.9C223.7 749 222.3 754.4 220.8 758.6C219.2 762.8 217 767 215.4 770C213.9 773.1 212.9 774.3 211.5 776.7C210.1 779 208.3 781.8 207 784C205.7 786.2 204.7 787.6 203.6 789.7C202.6 791.7 201.8 793.9 200.8 796.2C199.8 798.5 198.8 801.1 197.7 803.5C196.6 805.8 195.3 808.1 194.2 810.3C193.2 812.5 191.5 816 191.2 816.7C191 817.4 192.9 813.6 192.8 814.5C192.7 815.4 190.5 819.6 190.6 821.9C190.7 824.2 192 826.8 193.5 828.5C195 830.2 197.4 831.3 199.5 832C201.6 832.7 204.9 832.5 206 832.6L450 832.6" fill="none" stroke="#4a5b9c" stroke-width="1.1" stroke-linejoin="round"/>
<ellipse cx="190.6" cy="821.9" rx="2.8" ry="1.8" fill="#2a55a8" transform="rotate(87.1 190.6 821.9)"/>
<line x1="193" y1="849.9" x2="473.6" y2="849.9" stroke="#eceffa" stroke-width="4.4"/>
<path d="M223.1 613.2C223.7 617.7 225.7 634.7 226.6 640.5C227.5 646.2 227.9 644.9 228.7 647.7C229.5 650.5 230.9 654.2 231.4 657.4C231.9 660.6 231.5 663.8 231.5 666.9C231.6 670 231.5 673.4 231.5 676.2C231.4 678.9 231.2 681 231.1 683.4C230.9 685.9 230.8 687.6 230.5 690.8C230.3 694 230 698.5 229.6 702.6C229.2 706.8 228.7 711.9 228.1 715.7C227.6 719.5 226.9 722.4 226.3 725.2C225.7 728.1 225.2 729.6 224.5 732.7C223.7 735.8 222.9 739.9 221.7 744C220.6 748.1 219.3 753.3 217.7 757.3C216.2 761.3 214.1 765.2 212.6 768.1C211.1 771 210 772.4 208.6 774.7C207.1 776.9 205.4 779.6 204 781.8C202.7 783.9 201.6 785.5 200.5 787.5C199.4 789.6 198.4 791.8 197.4 794.1C196.3 796.4 195.2 799 194.1 801.3C193 803.6 191.6 805.9 190.5 808.1C189.4 810.3 188.4 812.9 187.3 814.6C186.2 816.2 185.8 815.4 184 818C182.2 820.6 178.4 826.2 176.5 830C174.6 833.8 172.9 838.1 172.6 840.8C172.3 843.5 173.3 844.6 174.5 846C175.7 847.4 177.8 848.6 179.5 849.3C181.2 849.9 184.1 849.8 185 849.9L473.6 849.9" fill="none" stroke="#4a5b9c" stroke-width="1.1" stroke-linejoin="round"/>
<ellipse cx="172.6" cy="840.8" rx="2.8" ry="1.8" fill="#2a55a8" transform="rotate(97.1 172.6 840.8)"/>
<line x1="179" y1="877.4" x2="473.6" y2="877.4" stroke="#eceffa" stroke-width="4.4"/>
<path d="M222.4 619.4C222.9 622.9 224.5 635.8 225.3 640.5C226 645.2 226.3 644.9 226.9 647.7C227.6 650.5 228.7 654.2 229 657.4C229.4 660.5 229.1 663.6 229.1 666.7C229 669.8 229 673.2 228.9 675.9C228.8 678.6 228.6 680.7 228.4 683.1C228.2 685.5 228.1 687.2 227.8 690.4C227.5 693.6 227.1 698.2 226.7 702.3C226.3 706.4 225.8 711.5 225.2 715.1C224.6 718.8 223.9 721.5 223.3 724.3C222.7 727.1 222.1 728.7 221.4 731.8C220.6 735 219.7 739.1 218.6 743.2C217.5 747.2 216.2 752.2 214.7 756.1C213.2 759.9 211.2 763.4 209.7 766.2C208.2 768.9 207.1 770.4 205.6 772.6C204.2 774.9 202.5 777.4 201.1 779.6C199.7 781.7 198.5 783.3 197.3 785.4C196.2 787.5 195.1 789.7 193.9 792C192.8 794.3 191.7 796.8 190.5 799.1C189.3 801.4 187.9 803.7 186.8 805.9C185.6 808.1 185.1 810.2 183.4 812.5C181.8 814.9 179.7 816.1 177 820C174.3 823.9 170.2 830.7 167.5 836C164.8 841.3 162.6 847.2 161 852C159.4 856.8 158.6 861.7 158.2 865C157.8 868.3 158 870.1 158.6 871.9C159.2 873.7 160.3 874.9 161.5 875.8C162.7 876.7 164.4 877 166 877.3C167.6 877.6 170.2 877.4 171 877.4L473.6 877.4" fill="none" stroke="#4a5b9c" stroke-width="1.1" stroke-linejoin="round"/>
<ellipse cx="158.6" cy="871.9" rx="2.8" ry="1.8" fill="#2a55a8" transform="rotate(73 158.6 871.9)"/>
<line x1="175" y1="904.4" x2="473.6" y2="904.4" stroke="#eceffa" stroke-width="4.4"/>
<path d="M221.8 625.6C222.2 628.1 223.4 636.8 223.9 640.5C224.5 644.1 224.7 644.8 225.1 647.6C225.6 650.4 226.4 654.1 226.7 657.3C226.9 660.4 226.6 663.5 226.6 666.6C226.5 669.7 226.4 673 226.3 675.7C226.2 678.4 226 680.3 225.8 682.7C225.6 685.1 225.4 686.8 225.1 690.1C224.7 693.3 224.3 697.8 223.9 701.9C223.4 706 222.8 711 222.3 714.6C221.7 718.2 221 720.7 220.3 723.4C219.6 726.1 219.1 727.8 218.2 731C217.4 734.1 216.5 738.4 215.4 742.4C214.3 746.3 213.1 751.2 211.6 754.8C210.2 758.5 208.4 761.6 206.9 764.2C205.4 766.9 204.1 768.4 202.7 770.6C201.2 772.8 199.6 775.2 198.2 777.4C196.7 779.5 195.5 781.2 194.2 783.3C192.9 785.4 191.8 787.6 190.5 789.9C189.3 792.2 188.1 794.6 186.8 796.9C185.6 799.2 184.3 801.5 183 803.7C181.8 806 181.5 807.7 179.5 810.4C177.6 813.1 174.4 815.7 171.5 820C168.6 824.3 164.7 830.5 162 836C159.3 841.5 157.1 847.3 155.5 853C153.9 858.7 153 864.7 152.5 870C152 875.3 152.1 881.1 152.3 885C152.6 888.9 153.1 891.1 154 893.5C154.9 895.9 156.6 897.7 157.9 899.3C159.2 900.9 160.5 902.4 162 903.3C163.5 904.1 166.2 904.2 167 904.4L473.6 904.4" fill="none" stroke="#4a5b9c" stroke-width="1.1" stroke-linejoin="round"/>
<ellipse cx="157.9" cy="899.3" rx="2.8" ry="1.8" fill="#2a55a8" transform="rotate(50.8 157.9 899.3)"/>
<line x1="182" y1="924.4" x2="450" y2="924.4" stroke="#eceffa" stroke-width="4.4"/>
<path d="M221.2 631.8C221.4 633.2 222.2 637.8 222.6 640.4C222.9 643.1 223.1 644.8 223.4 647.6C223.6 650.4 224.2 654 224.3 657.2C224.4 660.3 224.2 663.4 224.1 666.4C224 669.5 223.9 672.8 223.7 675.4C223.5 678.1 223.3 680 223.1 682.3C222.9 684.7 222.7 686.5 222.3 689.7C222 692.9 221.5 697.5 221 701.6C220.5 705.6 219.9 710.5 219.3 714C218.7 717.5 218 719.8 217.3 722.5C216.6 725.2 216 726.9 215.1 730.1C214.3 733.2 213.3 737.6 212.3 741.5C211.2 745.4 210 750.1 208.6 753.6C207.2 757 205.5 759.8 204.1 762.3C202.6 764.8 201.2 766.5 199.8 768.6C198.3 770.8 196.7 773.1 195.2 775.1C193.8 777.2 192.4 779 191 781.2C189.7 783.3 188.4 785.5 187.1 787.8C185.8 790 184.5 792.4 183.2 794.7C181.9 797 180.6 799.3 179.3 801.5C178 803.8 177.8 805.3 175.6 808.3C173.5 811.4 169.6 815.4 166.5 820C163.4 824.6 159.6 830.5 157 836C154.4 841.5 152.3 847.3 150.8 853C149.3 858.7 148.6 864.3 148 870C147.4 875.7 147.2 881.8 147.3 887C147.4 892.2 147.6 896.8 148.5 901C149.4 905.2 151 909.2 152.5 912C154 914.8 155.9 916.1 157.5 917.5C159.1 918.9 160.4 919.3 162 920.3C163.6 921.3 165 922.6 167 923.3C169 924 172.8 924.2 174 924.4L450 924.4" fill="none" stroke="#4a5b9c" stroke-width="1.1" stroke-linejoin="round"/>
<ellipse cx="162" cy="920.3" rx="2.8" ry="1.8" fill="#2a55a8" transform="rotate(31.4 162 920.3)"/>
<line x1="207" y1="955.2" x2="473.6" y2="955.2" stroke="#eceffa" stroke-width="4.4"/>
<path d="M220.6 638C220.7 639.6 221.3 644.4 221.6 647.6C221.8 650.8 221.9 654 221.9 657.1C221.9 660.2 221.7 663.3 221.6 666.3C221.5 669.3 221.3 672.6 221.1 675.2C220.9 677.8 220.7 679.6 220.5 682C220.2 684.3 220 686.1 219.6 689.3C219.2 692.5 218.7 697.2 218.1 701.2C217.6 705.2 217 710.1 216.4 713.5C215.7 716.9 215.1 719 214.3 721.6C213.6 724.2 212.9 726 212 729.2C211.1 732.4 210.2 736.8 209.1 740.7C208 744.5 206.9 749.1 205.5 752.3C204.2 755.6 202.7 758 201.2 760.4C199.8 762.7 198.3 764.5 196.8 766.6C195.3 768.7 193.8 770.9 192.3 772.9C190.8 775 189.3 776.9 187.9 779C186.5 781.1 185.1 783.4 183.7 785.7C182.3 787.9 180.9 790.3 179.6 792.5C178.2 794.8 176.9 797.1 175.6 799.3C174.3 801.6 174.1 802.8 171.7 806.3C169.4 809.7 164.7 815 161.5 820C158.3 825 155 830.5 152.5 836C150 841.5 147.9 847.3 146.5 853C145.1 858.7 144.5 864.3 144 870C143.5 875.7 143.3 881.5 143.4 887C143.5 892.5 143.8 898.3 144.6 903C145.4 907.7 146.9 911.7 148.5 915C150.1 918.3 152.4 919.9 154.1 922.6C155.8 925.3 156.7 928.3 158.5 931C160.3 933.7 162.6 936.7 164.8 939C167.1 941.3 169.3 943.1 172 945C174.7 946.9 178.2 949 181.2 950.5C184.2 952 187 953.2 190 954C193 954.8 197.5 955 199 955.2L473.6 955.2" fill="none" stroke="#4a5b9c" stroke-width="1.1" stroke-linejoin="round"/>
<ellipse cx="154.1" cy="922.6" rx="2.8" ry="1.8" fill="#2a55a8" transform="rotate(58 154.1 922.6)"/>
<path d="M220.2 640.4C220.1 643.2 220.1 651.2 219.9 657C219.7 662.8 219.3 669.7 218.8 675C218.3 680.3 217.8 682.7 217 689C216.2 695.3 215.1 706.4 213.8 713C212.6 719.6 211.3 722.1 209.5 728.5C207.7 734.9 205.5 745.2 203 751.3C200.5 757.4 197.4 760.6 194.5 765C191.6 769.4 188.4 773.1 185.5 777.4C182.6 781.7 179.8 786.4 177 791C174.2 795.6 171.6 800 169 804.8C166.4 809.6 162.8 817.4 161.5 819.9" fill="none" stroke="#4e4f58" stroke-width="1.2" />
<path d="M232.2 585C232.6 587.5 234.2 593.3 234.8 600C235.4 606.7 235.8 615.5 236 625C236.2 634.5 236.1 646.3 236.2 657C236.3 667.7 236.6 679.7 236.7 689C236.8 698.3 236.9 706.4 236.6 713C236.3 719.6 235.9 723.2 235 728.5C234.1 733.8 232.3 740.2 231 745C229.7 749.8 228.7 752.8 227 757C225.3 761.2 223 766 221 770C219 774 216.9 777.5 214.9 781C212.9 784.5 211.3 787 208.8 791C206.3 795 202.7 801.2 199.9 804.8C197.1 808.4 195 810.5 192 812.5C189 814.5 185.7 815.8 182 817C178.3 818.2 173.5 819 170 819.5C166.5 820 162.3 819.8 160.8 819.9" fill="none" stroke="#6f7478" stroke-width="1.1" />
<path d="M211.4 28.3C211.8 29.1 213.1 31.1 213.9 32.8C214.8 34.5 215.8 37 216.5 38.5C217.2 40 217.4 40.6 217.9 42C218.4 43.4 218.7 44.8 219.3 47.1C219.9 49.4 220.8 52.9 221.3 55.7C221.8 58.6 222.2 60.9 222.5 64.2C222.8 67.5 222.9 71.9 223.1 75.7C223.3 79.5 223.4 83.3 223.5 87.1C223.6 90.9 223.7 94.7 223.6 98.5C223.5 102.3 223.4 106.2 223.2 110C223 113.8 222.6 118 222.3 121.3C222 124.6 221.8 126.6 221.3 130C220.8 133.4 220.1 138.4 219.5 141.7C218.9 145 218.3 147.7 217.8 150C217.3 152.3 216.8 154.6 216.6 155.5L231.7 159.6C231.8 159.2 232.2 159.1 232.7 157.5C233.2 155.9 233.8 152.6 234.4 150C235 147.4 235.5 145 236 141.7C236.5 138.4 237.2 133.4 237.6 130C238 126.6 238.3 124.6 238.6 121.3C238.9 118 239.2 113.8 239.4 110C239.6 106.2 239.7 102.3 239.6 98.5C239.5 94.7 239.3 90.9 239 87.1C238.7 83.3 238.6 79.5 237.9 75.7C237.2 71.9 236.1 67.5 235 64.2C233.9 60.9 232.6 58.6 231.4 55.7C230.2 52.9 228.9 49.4 228 47.1C227.1 44.8 226.8 43.4 226.1 42C225.4 40.6 224.7 40 224 38.5C223.3 37 222.6 34.5 222 32.8C221.4 31.1 221.1 29.6 220.7 28.3C220.3 27 219.9 25.6 219.7 25.1Z" fill="#1290d9" stroke="#1290d9" stroke-width="0.5" stroke-linejoin="round"/>
<path d="M216.6 155.5C216.5 155.8 216.5 155.8 216.1 157.5C215.7 159.2 215.1 162.8 214.4 166C213.8 169.2 213.5 171.7 212.2 176.5C210.9 181.3 208.8 188.7 206.8 194.8C204.8 200.9 202.7 206.7 200.2 213C197.7 219.3 194.3 225.7 191.6 232.8C188.9 239.9 186.4 248.1 184 255.7C181.6 263.3 179.2 270.9 177.1 278.5C175 286.1 173 293.9 171.2 301.3C169.4 308.7 167.7 315.4 166.4 322.8C165.1 330.2 164.1 338.1 163.4 345.7C162.7 353.3 162.4 360.9 162.2 368.5C162 376.1 161.9 383.9 162.2 391.3C162.5 398.7 163.2 405.4 164 412.8C164.8 420.2 166 430 166.8 435.7C167.7 441.4 168.4 443.3 169.1 447.1C169.8 450.9 170.7 455.6 171.2 458.5C171.7 461.4 171.9 462.6 172.3 464.5C172.7 466.4 173.1 468.1 173.4 470C173.7 471.9 174 473.7 174.3 475.6C174.6 477.5 174.9 478.7 175.4 481.3C175.9 483.9 176.4 487.8 177.2 491.4C178 495 179.1 499 180 502.8C180.9 506.6 181.8 510.4 182.7 514.2C183.6 518 184.9 523.1 185.6 525.7C186.2 528.3 186.4 529 186.6 530C186.8 531 187 531.7 187 532L208 527.4C208 527.1 208.1 527.9 207.6 525.7C207.1 523.5 205.7 518 204.8 514.2C203.9 510.4 202.9 506.6 202 502.8C201.1 499 200.2 495 199.1 491.4C198 487.8 196.6 483.9 195.6 481.3C194.6 478.7 194 477.5 193 475.6C192 473.7 190.8 471.9 189.6 470C188.4 468.1 186.9 466.4 186 464.5C185.1 462.6 184.7 461.4 183.9 458.5C183.1 455.6 181.9 450.9 181 447.1C180.1 443.3 179.3 441.4 178.2 435.7C177.1 430 175.3 420.2 174.4 412.8C173.5 405.4 173.2 398.7 172.9 391.3C172.6 383.9 172.4 376.1 172.6 368.5C172.8 360.9 173.5 353.3 174.2 345.7C174.9 338.1 175.7 330.2 177 322.8C178.3 315.4 180.2 308.7 182 301.3C183.8 293.9 185.5 286.1 187.6 278.5C189.7 270.9 191.9 263.3 194.4 255.7C196.9 248.1 199.7 239.9 202.6 232.8C205.5 225.7 209 219.3 211.6 213C214.2 206.7 216 200.9 218.2 194.8C220.4 188.7 223 181.3 224.7 176.5C226.4 171.7 227.3 168.8 228.5 166C229.7 163.2 231.1 160.7 231.7 159.6Z" fill="#ec6c2a" stroke="#ec6c2a" stroke-width="0.5" stroke-linejoin="round"/>
<path d="M187 532C187.6 534.8 189.3 542 190.6 548.5C191.9 555 193.6 563.9 195.1 571.3C196.6 578.7 198.1 586.8 199.3 592.8C200.5 598.8 201.6 604.4 202.1 607.2C202.6 610 202.1 609 202.1 609.4L224 604.8C223.9 602.8 223.9 598.4 223.1 592.8C222.3 587.2 220.9 578.7 219.3 571.3C217.7 563.9 215.2 555.4 213.4 548.5C211.6 541.6 209.6 533.5 208.7 530C207.8 526.5 208.1 527.8 208 527.4Z" fill="#3aaa52" stroke="#3aaa52" stroke-width="0.5" stroke-linejoin="round"/>
<path d="M202.1 609.4L223.9 604.8C223.2 614 222.5 622 221.4 632.8C221 636 220.6 638.5 220.2 640.4C216 633 210 621.4 202.1 609.4Z" fill="#2a55a8" stroke="#2a55a8" stroke-width="0.5" stroke-linejoin="round"/>
<path d="M238 29.1Q236.6 26.2 239.8 26L248.2 25.6Q251.4 25.4 253 28.2L257 35.4Q258.6 38.2 255.8 39.7L250.2 42.7Q247.4 44.2 245.2 41.9L244.8 41.3Q242.6 39 241.2 36.1Z" fill="#fcebc9" stroke="#a3906a" stroke-width="1.3" />
<text x="248.8" y="37.7" font-size="8" font-weight="bold" text-anchor="middle" fill="#3a352e" >C1</text>
<path d="M224.5 795.5Q221.1 792.6 224.3 789.4L242.2 771.8Q245.4 768.6 249 771.2L269.8 786.3Q273.4 788.9 269.6 791.4L245.3 807.5Q241.5 810 238.1 807.1Z" fill="#fcebc9" stroke="#a3906a" stroke-width="1.3" />
<text x="246.5" y="792.9" font-size="8" font-weight="bold" text-anchor="middle" fill="#3a352e" >L5</text>
<rect x="251.4" y="54" width="14.8" height="11.6" rx="4.8" ry="4.8" fill="#fcebc9" stroke="#a3906a" stroke-width="1.3" transform="rotate(8 258.8 59.8)"/>
<text x="258.8" y="62.7" font-size="8" font-weight="bold" text-anchor="middle" fill="#3a352e" >C2</text>
<rect x="255.5" y="73.9" width="15.2" height="11.2" rx="4.5" ry="4.5" fill="#fcebc9" stroke="#a3906a" stroke-width="1.3" transform="rotate(5 263.1 79.5)"/>
<text x="263.1" y="82.4" font-size="8" font-weight="bold" text-anchor="middle" fill="#3a352e" >C3</text>
<rect x="255.1" y="92.8" width="17.6" height="10.8" rx="4.2" ry="4.2" fill="#fcebc9" stroke="#a3906a" stroke-width="1.3" transform="rotate(3 263.9 98.2)"/>
<text x="263.9" y="101.1" font-size="8" font-weight="bold" text-anchor="middle" fill="#3a352e" >C4</text>
<rect x="254.3" y="111.4" width="17.8" height="11.8" rx="4.2" ry="4.2" fill="#fcebc9" stroke="#a3906a" stroke-width="1.3" transform="rotate(6 263.2 117.3)"/>
<text x="263.2" y="120.2" font-size="8" font-weight="bold" text-anchor="middle" fill="#3a352e" >C5</text>
<rect x="251.6" y="132.7" width="18.5" height="13.8" rx="4.2" ry="4.2" fill="#fcebc9" stroke="#a3906a" stroke-width="1.3" transform="rotate(12 260.9 139.6)"/>
<text x="260.9" y="142.5" font-size="8" font-weight="bold" text-anchor="middle" fill="#3a352e" >C6</text>
<rect x="246.3" y="155.3" width="19" height="16" rx="4.2" ry="4.2" fill="#fcebc9" stroke="#a3906a" stroke-width="1.3" transform="rotate(17 255.8 163.3)"/>
<text x="255.8" y="166.2" font-size="8" font-weight="bold" text-anchor="middle" fill="#3a352e" >C7</text>
<rect x="240" y="180.4" width="19" height="15.5" rx="4" ry="4" fill="#fcebc9" stroke="#a3906a" stroke-width="1.3" transform="rotate(20 249.5 188.2)"/>
<text x="249.5" y="191" font-size="7.7" font-weight="bold" text-anchor="middle" fill="#3a352e" >T1</text>
<rect x="230.9" y="205.6" width="20.5" height="18.5" rx="4" ry="4" fill="#fcebc9" stroke="#a3906a" stroke-width="1.3" transform="rotate(20 241.2 214.8)"/>
<text x="241.2" y="217.6" font-size="7.7" font-weight="bold" text-anchor="middle" fill="#3a352e" >T2</text>
<rect x="219.9" y="233.8" width="21.5" height="18.5" rx="4" ry="4" fill="#fcebc9" stroke="#a3906a" stroke-width="1.3" transform="rotate(18 230.7 243)"/>
<text x="230.7" y="245.8" font-size="7.7" font-weight="bold" text-anchor="middle" fill="#3a352e" >T3</text>
<rect x="210.2" y="261.6" width="23.5" height="21.5" rx="4" ry="4" fill="#fcebc9" stroke="#a3906a" stroke-width="1.3" transform="rotate(17 221.9 272.4)"/>
<text x="221.9" y="275.2" font-size="7.7" font-weight="bold" text-anchor="middle" fill="#3a352e" >T4</text>
<rect x="203.3" y="294.4" width="23" height="20.5" rx="4" ry="4" fill="#fcebc9" stroke="#a3906a" stroke-width="1.3" transform="rotate(12 214.8 304.7)"/>
<text x="214.8" y="307.5" font-size="7.7" font-weight="bold" text-anchor="middle" fill="#3a352e" >T5</text>
<rect x="197.1" y="325.9" width="24.5" height="21" rx="4" ry="4" fill="#fcebc9" stroke="#a3906a" stroke-width="1.3" transform="rotate(7 209.3 336.4)"/>
<text x="209.3" y="339.2" font-size="7.7" font-weight="bold" text-anchor="middle" fill="#3a352e" >T6</text>
<rect x="194.3" y="357.8" width="25" height="21" rx="4" ry="4" fill="#fcebc9" stroke="#a3906a" stroke-width="1.3" transform="rotate(1 206.8 368.3)"/>
<text x="206.8" y="371.1" font-size="7.7" font-weight="bold" text-anchor="middle" fill="#3a352e" >T7</text>
<rect x="195.8" y="390" width="24.5" height="21" rx="4" ry="4" fill="#fcebc9" stroke="#a3906a" stroke-width="1.3" transform="rotate(-5 208 400.5)"/>
<text x="208" y="403.3" font-size="7.7" font-weight="bold" text-anchor="middle" fill="#3a352e" >T8</text>
<rect x="202.3" y="422.9" width="24" height="20.5" rx="4" ry="4" fill="#fcebc9" stroke="#a3906a" stroke-width="1.3" transform="rotate(-14 214.3 433.2)"/>
<text x="214.3" y="436" font-size="7.7" font-weight="bold" text-anchor="middle" fill="#3a352e" >T9</text>
<rect x="209.4" y="454.8" width="25" height="22" rx="4" ry="4" fill="#fcebc9" stroke="#a3906a" stroke-width="1.3" transform="rotate(-19 221.9 465.8)"/>
<text x="221.9" y="468.6" font-size="7.7" font-weight="bold" text-anchor="middle" fill="#3a352e" >T10</text>
<rect x="221.3" y="493.1" width="25" height="23.5" rx="4" ry="4" fill="#fcebc9" stroke="#a3906a" stroke-width="1.3" transform="rotate(-20 233.8 504.8)"/>
<text x="233.8" y="507.6" font-size="7.7" font-weight="bold" text-anchor="middle" fill="#3a352e" >T11</text>
<rect x="233.7" y="534.8" width="25.5" height="24.5" rx="4" ry="4" fill="#fcebc9" stroke="#a3906a" stroke-width="1.3" transform="rotate(-20 246.4 547)"/>
<text x="246.4" y="549.8" font-size="7.7" font-weight="bold" text-anchor="middle" fill="#3a352e" >T12</text>
<rect x="244.8" y="578" width="30" height="33" rx="4.5" ry="4.5" fill="#fcebc9" stroke="#a3906a" stroke-width="1.3" transform="rotate(-14 259.8 594.5)"/>
<text x="259.8" y="597.4" font-size="8" font-weight="bold" text-anchor="middle" fill="#3a352e" >L1</text>
<rect x="251.5" y="629.7" width="31" height="32" rx="4.5" ry="4.5" fill="#fcebc9" stroke="#a3906a" stroke-width="1.3" transform="rotate(-12 267 645.7)"/>
<text x="267" y="648.6" font-size="8" font-weight="bold" text-anchor="middle" fill="#3a352e" >L2</text>
<rect x="255.9" y="680.5" width="30" height="30" rx="4.5" ry="4.5" fill="#fcebc9" stroke="#a3906a" stroke-width="1.3" transform="rotate(2 270.9 695.5)"/>
<text x="270.9" y="698.4" font-size="8" font-weight="bold" text-anchor="middle" fill="#3a352e" >L3</text>
<rect x="253.3" y="728.7" width="30" height="30" rx="4.5" ry="4.5" fill="#fcebc9" stroke="#a3906a" stroke-width="1.3" transform="rotate(17 268.3 743.7)"/>
<text x="268.3" y="746.6" font-size="8" font-weight="bold" text-anchor="middle" fill="#3a352e" >L4</text>
<rect x="200.6" y="804.3" width="20" height="23" rx="3.5" ry="3.5" fill="#fcebc9" stroke="#a3906a" stroke-width="1.3" transform="rotate(36.5 210.6 815.8)"/>
<text x="210.6" y="818.4" font-size="7.3" font-weight="bold" text-anchor="middle" fill="#3a352e" >S1</text>
<rect x="178.5" y="830.7" width="16" height="13.8" rx="3.5" ry="3.5" fill="#fcebc9" stroke="#a3906a" stroke-width="1.3" transform="rotate(40 186.5 837.6)"/>
<text x="186.5" y="840" font-size="6.8" font-weight="bold" text-anchor="middle" fill="#3a352e" >S2</text>
<rect x="160.3" y="851.5" width="17.5" height="19" rx="3.5" ry="3.5" fill="#fcebc9" stroke="#a3906a" stroke-width="1.3" transform="rotate(22 169.1 861)"/>
<text x="169.1" y="863.4" font-size="6.8" font-weight="bold" text-anchor="middle" fill="#3a352e" >S3</text>
<rect x="156.1" y="882.5" width="11" height="15" rx="3" ry="3" fill="#fcebc9" stroke="#a3906a" stroke-width="1.3" transform="rotate(6 161.6 890)"/>
<text x="161.6" y="892.4" font-size="6.6" font-weight="bold" text-anchor="middle" fill="#3a352e" >S4</text>
<rect x="156.8" y="905.3" width="11.5" height="10" rx="3" ry="3" fill="#fcebc9" stroke="#a3906a" stroke-width="1.3" transform="rotate(8 162.5 910.3)"/>
<text x="162.5" y="912.7" font-size="6.6" font-weight="bold" text-anchor="middle" fill="#3a352e" >S5</text>
<text x="215.8" y="31.7" font-size="8.8" font-weight="normal" text-anchor="middle" fill="#d8efff" stroke="#d8efff" stroke-width="0.3">1</text>
<text x="223.5" y="48.2" font-size="8.8" font-weight="normal" text-anchor="middle" fill="#d8efff" stroke="#d8efff" stroke-width="0.3">2</text>
<text x="227.8" y="62.2" font-size="8.8" font-weight="normal" text-anchor="middle" fill="#d8efff" stroke="#d8efff" stroke-width="0.3">3</text>
<text x="229.5" y="76.7" font-size="8.8" font-weight="normal" text-anchor="middle" fill="#d8efff" stroke="#d8efff" stroke-width="0.3">4</text>
<text x="231.5" y="93.2" font-size="8.8" font-weight="normal" text-anchor="middle" fill="#d8efff" stroke="#d8efff" stroke-width="0.3">5</text>
<text x="231" y="109.2" font-size="8.8" font-weight="normal" text-anchor="middle" fill="#d8efff" stroke="#d8efff" stroke-width="0.3">6</text>
<text x="228.5" y="128.7" font-size="8.8" font-weight="normal" text-anchor="middle" fill="#d8efff" stroke="#d8efff" stroke-width="0.3">7</text>
<text x="226" y="149.7" font-size="8.8" font-weight="normal" text-anchor="middle" fill="#d8efff" stroke="#d8efff" stroke-width="0.3">8</text>
<text x="220.5" y="168.7" font-size="8.8" font-weight="normal" text-anchor="middle" fill="#5e2c10" stroke="#5e2c10" stroke-width="0.3">1</text>
<text x="212.5" y="192.7" font-size="8.8" font-weight="normal" text-anchor="middle" fill="#5e2c10" stroke="#5e2c10" stroke-width="0.3">2</text>
<text x="202" y="221.2" font-size="8.8" font-weight="normal" text-anchor="middle" fill="#5e2c10" stroke="#5e2c10" stroke-width="0.3">3</text>
<text x="191.5" y="252.2" font-size="8.8" font-weight="normal" text-anchor="middle" fill="#5e2c10" stroke="#5e2c10" stroke-width="0.3">4</text>
<text x="179.5" y="283.2" font-size="8.8" font-weight="normal" text-anchor="middle" fill="#5e2c10" stroke="#5e2c10" stroke-width="0.3">5</text>
<text x="172.5" y="319.2" font-size="8.8" font-weight="normal" text-anchor="middle" fill="#5e2c10" stroke="#5e2c10" stroke-width="0.3">6</text>
<text x="168" y="350.7" font-size="8.8" font-weight="normal" text-anchor="middle" fill="#5e2c10" stroke="#5e2c10" stroke-width="0.3">7</text>
<text x="166.5" y="386.2" font-size="8.8" font-weight="normal" text-anchor="middle" fill="#5e2c10" stroke="#5e2c10" stroke-width="0.3">8</text>
<text x="169.5" y="421.7" font-size="8.8" font-weight="normal" text-anchor="middle" fill="#5e2c10" stroke="#5e2c10" stroke-width="0.3">9</text>
<text x="175" y="453.7" font-size="8.8" font-weight="normal" text-anchor="middle" fill="#5e2c10" stroke="#5e2c10" stroke-width="0.3">10</text>
<text x="185" y="488.7" font-size="8.8" font-weight="normal" text-anchor="middle" fill="#5e2c10" stroke="#5e2c10" stroke-width="0.3">11</text>
<text x="193" y="517.2" font-size="8.8" font-weight="normal" text-anchor="middle" fill="#5e2c10" stroke="#5e2c10" stroke-width="0.3">12</text>
<text x="199" y="540.7" font-size="8.8" font-weight="normal" text-anchor="middle" fill="#17522a" stroke="#17522a" stroke-width="0.3">1</text>
<text x="203" y="555.7" font-size="8.8" font-weight="normal" text-anchor="middle" fill="#17522a" stroke="#17522a" stroke-width="0.3">2</text>
<text x="206" y="568.7" font-size="8.8" font-weight="normal" text-anchor="middle" fill="#17522a" stroke="#17522a" stroke-width="0.3">3</text>
<text x="208.5" y="583.7" font-size="8.8" font-weight="normal" text-anchor="middle" fill="#17522a" stroke="#17522a" stroke-width="0.3">4</text>
<text x="211" y="599.2" font-size="8.8" font-weight="normal" text-anchor="middle" fill="#17522a" stroke="#17522a" stroke-width="0.3">5</text>
<text x="215.5" y="616" font-size="8.4" font-weight="normal" text-anchor="middle" fill="#e6ecff" stroke="#e6ecff" stroke-width="0.3">1</text>
<text x="217" y="625" font-size="8.4" font-weight="normal" text-anchor="middle" fill="#e6ecff" stroke="#e6ecff" stroke-width="0.3">2</text>
<text x="218.5" y="634" font-size="8.4" font-weight="normal" text-anchor="middle" fill="#e6ecff" stroke="#e6ecff" stroke-width="0.3">3</text>
<rect x="772.5" y="34" width="10" height="7" rx="2.4" ry="2.4" fill="#fcebc9" stroke="#b48a4e" stroke-width="1.2" transform="rotate(5 777.5 37.5)"/>
<rect x="829.2" y="34" width="10" height="7" rx="2.4" ry="2.4" fill="#fcebc9" stroke="#b48a4e" stroke-width="1.2" transform="rotate(-5 834.2 37.5)"/>
<rect x="772.9" y="55.5" width="9.3" height="6.6" rx="2.4" ry="2.4" fill="#fcebc9" stroke="#b48a4e" stroke-width="1.2" transform="rotate(-30 777.5 58.8)"/>
<rect x="830.1" y="55.5" width="9.3" height="6.6" rx="2.4" ry="2.4" fill="#fcebc9" stroke="#b48a4e" stroke-width="1.2" transform="rotate(30 834.7 58.8)"/>
<rect x="768.8" y="73.8" width="10.5" height="7" rx="2.4" ry="2.4" fill="#fcebc9" stroke="#b48a4e" stroke-width="1.2" transform="rotate(-25 774 77.3)"/>
<rect x="831.1" y="73.8" width="10.5" height="7" rx="2.4" ry="2.4" fill="#fcebc9" stroke="#b48a4e" stroke-width="1.2" transform="rotate(25 836.4 77.3)"/>
<rect x="767.8" y="93.1" width="10.5" height="7" rx="2.4" ry="2.4" fill="#fcebc9" stroke="#b48a4e" stroke-width="1.2" transform="rotate(-28 773 96.6)"/>
<rect x="832.4" y="93.1" width="10.5" height="7" rx="2.4" ry="2.4" fill="#fcebc9" stroke="#b48a4e" stroke-width="1.2" transform="rotate(28 837.6 96.6)"/>
<rect x="766.8" y="112.8" width="11" height="7.5" rx="2.4" ry="2.4" fill="#fcebc9" stroke="#b48a4e" stroke-width="1.2" transform="rotate(-25 772.3 116.6)"/>
<rect x="832.5" y="112.8" width="11" height="7.5" rx="2.4" ry="2.4" fill="#fcebc9" stroke="#b48a4e" stroke-width="1.2" transform="rotate(25 838 116.6)"/>
<rect x="768.5" y="135.8" width="11" height="7.5" rx="2.4" ry="2.4" fill="#fcebc9" stroke="#b48a4e" stroke-width="1.2" transform="rotate(-25 774 139.5)"/>
<rect x="834.2" y="135.8" width="11" height="7.5" rx="2.4" ry="2.4" fill="#fcebc9" stroke="#b48a4e" stroke-width="1.2" transform="rotate(25 839.7 139.5)"/>
<rect x="772" y="159.2" width="11" height="7.5" rx="2.4" ry="2.4" fill="#fcebc9" stroke="#b48a4e" stroke-width="1.2" transform="rotate(8 777.5 163)"/>
<rect x="830.9" y="159.2" width="11" height="7.5" rx="2.4" ry="2.4" fill="#fcebc9" stroke="#b48a4e" stroke-width="1.2" transform="rotate(-8 836.4 163)"/>
<rect x="779.9" y="183.2" width="7.5" height="12" rx="2.4" ry="2.4" fill="#fcebc9" stroke="#b48a4e" stroke-width="1.2" transform="rotate(0 783.6 189.2)"/>
<rect x="827.8" y="183.2" width="7.5" height="12" rx="2.4" ry="2.4" fill="#fcebc9" stroke="#b48a4e" stroke-width="1.2" transform="rotate(0 831.5 189.2)"/>
<rect x="779.4" y="211.8" width="8" height="10.5" rx="2.4" ry="2.4" fill="#fcebc9" stroke="#b48a4e" stroke-width="1.2" transform="rotate(0 783.4 217)"/>
<rect x="826.7" y="211.8" width="8" height="10.5" rx="2.4" ry="2.4" fill="#fcebc9" stroke="#b48a4e" stroke-width="1.2" transform="rotate(0 830.7 217)"/>
<rect x="779.4" y="242.3" width="8" height="10.5" rx="2.4" ry="2.4" fill="#fcebc9" stroke="#b48a4e" stroke-width="1.2" transform="rotate(0 783.4 247.6)"/>
<rect x="826.7" y="242.3" width="8" height="10.5" rx="2.4" ry="2.4" fill="#fcebc9" stroke="#b48a4e" stroke-width="1.2" transform="rotate(0 830.7 247.6)"/>
<rect x="779.4" y="270.2" width="8" height="10.5" rx="2.4" ry="2.4" fill="#fcebc9" stroke="#b48a4e" stroke-width="1.2" transform="rotate(0 783.4 275.5)"/>
<rect x="826.7" y="270.2" width="8" height="10.5" rx="2.4" ry="2.4" fill="#fcebc9" stroke="#b48a4e" stroke-width="1.2" transform="rotate(0 830.7 275.5)"/>
<rect x="779.2" y="299.1" width="8" height="10.5" rx="2.4" ry="2.4" fill="#fcebc9" stroke="#b48a4e" stroke-width="1.2" transform="rotate(0 783.2 304.3)"/>
<rect x="826.9" y="299.1" width="8" height="10.5" rx="2.4" ry="2.4" fill="#fcebc9" stroke="#b48a4e" stroke-width="1.2" transform="rotate(0 830.9 304.3)"/>
<rect x="779" y="329.6" width="8" height="10.5" rx="2.4" ry="2.4" fill="#fcebc9" stroke="#b48a4e" stroke-width="1.2" transform="rotate(0 783 334.8)"/>
<rect x="827.1" y="329.6" width="8" height="10.5" rx="2.4" ry="2.4" fill="#fcebc9" stroke="#b48a4e" stroke-width="1.2" transform="rotate(0 831.1 334.8)"/>
<rect x="777.5" y="363.3" width="8.5" height="11" rx="2.4" ry="2.4" fill="#fcebc9" stroke="#b48a4e" stroke-width="1.2" transform="rotate(0 781.8 368.8)"/>
<rect x="827.2" y="363.3" width="8.5" height="11" rx="2.4" ry="2.4" fill="#fcebc9" stroke="#b48a4e" stroke-width="1.2" transform="rotate(0 831.5 368.8)"/>
<rect x="777.3" y="396.4" width="9" height="11" rx="2.4" ry="2.4" fill="#fcebc9" stroke="#b48a4e" stroke-width="1.2" transform="rotate(0 781.8 401.9)"/>
<rect x="827.9" y="396.4" width="9" height="11" rx="2.4" ry="2.4" fill="#fcebc9" stroke="#b48a4e" stroke-width="1.2" transform="rotate(0 832.4 401.9)"/>
<rect x="778" y="429.9" width="9.5" height="12" rx="2.4" ry="2.4" fill="#fcebc9" stroke="#b48a4e" stroke-width="1.2" transform="rotate(0 782.7 435.9)"/>
<rect x="828.5" y="429.9" width="9.5" height="12" rx="2.4" ry="2.4" fill="#fcebc9" stroke="#b48a4e" stroke-width="1.2" transform="rotate(0 833.3 435.9)"/>
<rect x="776" y="462.8" width="10" height="12.5" rx="2.4" ry="2.4" fill="#fcebc9" stroke="#b48a4e" stroke-width="1.2" transform="rotate(0 781 469)"/>
<rect x="830" y="462.8" width="10" height="12.5" rx="2.4" ry="2.4" fill="#fcebc9" stroke="#b48a4e" stroke-width="1.2" transform="rotate(0 835 469)"/>
<rect x="774.2" y="498.6" width="10" height="12.5" rx="2.4" ry="2.4" fill="#fcebc9" stroke="#b48a4e" stroke-width="1.2" transform="rotate(0 779.2 504.8)"/>
<rect x="831.8" y="498.6" width="10" height="12.5" rx="2.4" ry="2.4" fill="#fcebc9" stroke="#b48a4e" stroke-width="1.2" transform="rotate(0 836.8 504.8)"/>
<rect x="772.8" y="533.3" width="10.5" height="13" rx="2.4" ry="2.4" fill="#fcebc9" stroke="#b48a4e" stroke-width="1.2" transform="rotate(0 778 539.8)"/>
<rect x="833.2" y="533.3" width="10.5" height="13" rx="2.4" ry="2.4" fill="#fcebc9" stroke="#b48a4e" stroke-width="1.2" transform="rotate(0 838.5 539.8)"/>
<rect x="770.5" y="583.7" width="10.5" height="14" rx="2.4" ry="2.4" fill="#fcebc9" stroke="#b48a4e" stroke-width="1.2" transform="rotate(0 775.7 590.7)"/>
<rect x="835" y="583.7" width="10.5" height="14" rx="2.4" ry="2.4" fill="#fcebc9" stroke="#b48a4e" stroke-width="1.2" transform="rotate(0 840.3 590.7)"/>
<rect x="771.8" y="631.6" width="10.5" height="14" rx="2.4" ry="2.4" fill="#fcebc9" stroke="#b48a4e" stroke-width="1.2" transform="rotate(0 777 638.6)"/>
<rect x="834.1" y="631.6" width="10.5" height="14" rx="2.4" ry="2.4" fill="#fcebc9" stroke="#b48a4e" stroke-width="1.2" transform="rotate(0 839.4 638.6)"/>
<rect x="773.5" y="679.6" width="10.5" height="14" rx="2.4" ry="2.4" fill="#fcebc9" stroke="#b48a4e" stroke-width="1.2" transform="rotate(0 778.7 686.6)"/>
<rect x="831.5" y="679.6" width="10.5" height="14" rx="2.4" ry="2.4" fill="#fcebc9" stroke="#b48a4e" stroke-width="1.2" transform="rotate(0 836.8 686.6)"/>
<rect x="770.6" y="725.5" width="11" height="15.5" rx="2.4" ry="2.4" fill="#fcebc9" stroke="#b48a4e" stroke-width="1.2" transform="rotate(0 776.1 733.2)"/>
<rect x="834.2" y="725.5" width="11" height="15.5" rx="2.4" ry="2.4" fill="#fcebc9" stroke="#b48a4e" stroke-width="1.2" transform="rotate(0 839.7 733.2)"/>
<rect x="768.5" y="770.5" width="11.5" height="15.5" rx="2.4" ry="2.4" fill="#fcebc9" stroke="#b48a4e" stroke-width="1.2" transform="rotate(0 774.3 778.2)"/>
<rect x="835.4" y="770.5" width="11.5" height="15.5" rx="2.4" ry="2.4" fill="#fcebc9" stroke="#b48a4e" stroke-width="1.2" transform="rotate(0 841.1 778.2)"/>
<rect x="774.6" y="811.5" width="11" height="15" rx="2.4" ry="2.4" fill="#fcebc9" stroke="#b48a4e" stroke-width="1.2" transform="rotate(0 780.1 819)"/>
<rect x="830.4" y="811.5" width="11" height="15" rx="2.4" ry="2.4" fill="#fcebc9" stroke="#b48a4e" stroke-width="1.2" transform="rotate(0 835.9 819)"/>
<rect x="776.4" y="837.5" width="8" height="6" rx="2.4" ry="2.4" fill="#fcebc9" stroke="#b48a4e" stroke-width="1.2" transform="rotate(0 780.4 840.5)"/>
<rect x="831" y="837.5" width="8" height="6" rx="2.4" ry="2.4" fill="#fcebc9" stroke="#b48a4e" stroke-width="1.2" transform="rotate(0 835 840.5)"/>
<rect x="776.9" y="860.4" width="8.2" height="6.5" rx="2.4" ry="2.4" fill="#fcebc9" stroke="#b48a4e" stroke-width="1.2" transform="rotate(0 781 863.6)"/>
<rect x="830.1" y="860.4" width="8.2" height="6.5" rx="2.4" ry="2.4" fill="#fcebc9" stroke="#b48a4e" stroke-width="1.2" transform="rotate(0 834.2 863.6)"/>
<rect x="777.7" y="888.8" width="8.2" height="6.5" rx="2.4" ry="2.4" fill="#fcebc9" stroke="#b48a4e" stroke-width="1.2" transform="rotate(0 781.8 892)"/>
<rect x="829.5" y="888.8" width="8.2" height="6.5" rx="2.4" ry="2.4" fill="#fcebc9" stroke="#b48a4e" stroke-width="1.2" transform="rotate(0 833.6 892)"/>
<rect x="786.6" y="909.8" width="8" height="6.5" rx="2.4" ry="2.4" fill="#fcebc9" stroke="#b48a4e" stroke-width="1.2" transform="rotate(0 790.6 913)"/>
<rect x="821.1" y="909.8" width="8" height="6.5" rx="2.4" ry="2.4" fill="#fcebc9" stroke="#b48a4e" stroke-width="1.2" transform="rotate(0 825.1 913)"/>
<line x1="772" y1="18" x2="609" y2="18" stroke="#e3f4fc" stroke-width="4.4"/>
<path d="M803 22.7C797.3 20.4 789.7 18.8 782.7 18.2C778.7 17.9 780.4 18 778 18L609 18" fill="none" stroke="#1290d9" stroke-width="1.9" />
<ellipse cx="782.7" cy="18.2" rx="4" ry="2.1" fill="#1290d9" transform="rotate(-175.2 782.7 18.2)"/>
<line x1="844" y1="18" x2="876" y2="18" stroke="#e3f4fc" stroke-width="4.4"/>
<path d="M813 22.7C818.7 20.4 826.3 18.8 833.3 18.2C837.3 17.9 835.6 18 838 18L876 18" fill="none" stroke="#1290d9" stroke-width="1.9" />
<ellipse cx="833.3" cy="18.2" rx="4" ry="2.1" fill="#1290d9" transform="rotate(-4.8 833.3 18.2)"/>
<line x1="773" y1="46.6" x2="609" y2="46.6" stroke="#e3f4fc" stroke-width="4.4"/>
<path d="M803 37.5C797.8 41.9 791.4 45.2 784.5 46.2C780.5 46.8 781.8 46.6 779 46.6L609 46.6" fill="none" stroke="#1290d9" stroke-width="1.9" />
<ellipse cx="784.5" cy="46.2" rx="4" ry="2.1" fill="#1290d9" transform="rotate(171.7 784.5 46.2)"/>
<line x1="843" y1="46.6" x2="876" y2="46.6" stroke="#e3f4fc" stroke-width="4.4"/>
<path d="M813 37.5C818.2 41.9 824.6 45.2 831.5 46.2C835.5 46.8 834.2 46.6 837 46.6L876 46.6" fill="none" stroke="#1290d9" stroke-width="1.9" />
<ellipse cx="831.5" cy="46.2" rx="4" ry="2.1" fill="#1290d9" transform="rotate(8.3 831.5 46.2)"/>
<line x1="774" y1="66.6" x2="609" y2="66.6" stroke="#e3f4fc" stroke-width="4.4"/>
<path d="M802.5 58C797.8 62 792.5 64.6 785.7 66C781.8 66.8 782.9 66.6 780 66.6L609 66.6" fill="none" stroke="#1290d9" stroke-width="1.9" />
<ellipse cx="785.7" cy="66" rx="4" ry="2.1" fill="#1290d9" transform="rotate(168.1 785.7 66)"/>
<line x1="842" y1="66.6" x2="876" y2="66.6" stroke="#e3f4fc" stroke-width="4.4"/>
<path d="M813.5 58C818.2 62 823.5 64.6 830.3 66C834.2 66.8 833.1 66.6 836 66.6L876 66.6" fill="none" stroke="#1290d9" stroke-width="1.9" />
<ellipse cx="830.3" cy="66" rx="4" ry="2.1" fill="#1290d9" transform="rotate(11.9 830.3 66)"/>
<line x1="774" y1="86" x2="609" y2="86" stroke="#e3f4fc" stroke-width="4.4"/>
<path d="M796 78C793.1 81.8 792.6 84.6 785.7 85.6C781.7 86.2 782.9 86 780 86L609 86" fill="none" stroke="#1290d9" stroke-width="1.9" />
<ellipse cx="785.7" cy="85.6" rx="4" ry="2.1" fill="#1290d9" transform="rotate(172 785.7 85.6)"/>
<line x1="842" y1="86" x2="876" y2="86" stroke="#e3f4fc" stroke-width="4.4"/>
<path d="M820 78C822.9 81.8 823.4 84.6 830.3 85.6C834.3 86.2 833.1 86 836 86L876 86" fill="none" stroke="#1290d9" stroke-width="1.9" />
<ellipse cx="830.3" cy="85.6" rx="4" ry="2.1" fill="#1290d9" transform="rotate(8 830.3 85.6)"/>
<line x1="774" y1="105.2" x2="609" y2="105.2" stroke="#e3f4fc" stroke-width="4.4"/>
<path d="M796 97.5C793.1 101.2 792.6 103.8 785.7 104.8C781.7 105.4 782.9 105.2 780 105.2L609 105.2" fill="none" stroke="#1290d9" stroke-width="1.9" />
<ellipse cx="785.7" cy="104.8" rx="4" ry="2.1" fill="#1290d9" transform="rotate(172 785.7 104.8)"/>
<line x1="842" y1="105.2" x2="876" y2="105.2" stroke="#e3f4fc" stroke-width="4.4"/>
<path d="M820 97.5C822.9 101.2 823.4 103.8 830.3 104.8C834.3 105.4 833.1 105.2 836 105.2L876 105.2" fill="none" stroke="#1290d9" stroke-width="1.9" />
<ellipse cx="830.3" cy="104.8" rx="4" ry="2.1" fill="#1290d9" transform="rotate(8 830.3 104.8)"/>
<line x1="774" y1="126" x2="609" y2="126" stroke="#e3f4fc" stroke-width="4.4"/>
<path d="M796 118C793.1 121.8 792.6 124.6 785.7 125.6C781.7 126.2 782.9 126 780 126L609 126" fill="none" stroke="#1290d9" stroke-width="1.9" />
<ellipse cx="785.7" cy="125.6" rx="4" ry="2.1" fill="#1290d9" transform="rotate(172 785.7 125.6)"/>
<line x1="842" y1="126" x2="876" y2="126" stroke="#e3f4fc" stroke-width="4.4"/>
<path d="M820 118C822.9 121.8 823.4 124.6 830.3 125.6C834.3 126.2 833.1 126 836 126L876 126" fill="none" stroke="#1290d9" stroke-width="1.9" />
<ellipse cx="830.3" cy="125.6" rx="4" ry="2.1" fill="#1290d9" transform="rotate(8 830.3 125.6)"/>
<line x1="774" y1="149.3" x2="609" y2="149.3" stroke="#e3f4fc" stroke-width="4.4"/>
<path d="M796 141C793.1 144.9 792.6 147.9 785.7 148.9C781.7 149.5 782.9 149.3 780 149.3L609 149.3" fill="none" stroke="#1290d9" stroke-width="1.9" />
<ellipse cx="785.7" cy="148.9" rx="4" ry="2.1" fill="#1290d9" transform="rotate(172 785.7 148.9)"/>
<line x1="842" y1="149.3" x2="876" y2="149.3" stroke="#e3f4fc" stroke-width="4.4"/>
<path d="M820 141C822.9 144.9 823.4 147.9 830.3 148.9C834.3 149.5 833.1 149.3 836 149.3L876 149.3" fill="none" stroke="#1290d9" stroke-width="1.9" />
<ellipse cx="830.3" cy="148.9" rx="4" ry="2.1" fill="#1290d9" transform="rotate(8 830.3 148.9)"/>
<line x1="775" y1="173.7" x2="609" y2="173.7" stroke="#e3f4fc" stroke-width="4.4"/>
<path d="M796 167C793.5 170.2 794 172.7 787 173.4C783 173.8 784 173.7 781 173.7L609 173.7" fill="none" stroke="#1290d9" stroke-width="1.9" />
<ellipse cx="787" cy="173.4" rx="4" ry="2.1" fill="#1290d9" transform="rotate(174.3 787 173.4)"/>
<line x1="841" y1="173.7" x2="876" y2="173.7" stroke="#e3f4fc" stroke-width="4.4"/>
<path d="M820 167C822.5 170.2 822 172.7 829 173.4C833 173.8 832 173.7 835 173.7L876 173.7" fill="none" stroke="#1290d9" stroke-width="1.9" />
<ellipse cx="829" cy="173.4" rx="4" ry="2.1" fill="#1290d9" transform="rotate(5.7 829 173.4)"/>
<line x1="779" y1="200.8" x2="609" y2="200.8" stroke="#fdece1" stroke-width="4.4"/>
<path d="M800 195C797.8 197.7 798.9 199.3 792 200.3C788 200.9 788.5 200.8 785 200.8L609 200.8" fill="none" stroke="#ec6c2a" stroke-width="1.6" />
<ellipse cx="792" cy="200.3" rx="3.5" ry="1.9" fill="#ec6c2a" transform="rotate(171.9 792 200.3)"/>
<line x1="837" y1="200.8" x2="876" y2="200.8" stroke="#fdece1" stroke-width="4.4"/>
<path d="M816 195C818.2 197.7 817.1 199.3 824 200.3C828 200.9 827.5 200.8 831 200.8L876 200.8" fill="none" stroke="#ec6c2a" stroke-width="1.6" />
<ellipse cx="824" cy="200.3" rx="3.5" ry="1.9" fill="#ec6c2a" transform="rotate(8.1 824 200.3)"/>
<line x1="779" y1="230.7" x2="609" y2="230.7" stroke="#fdece1" stroke-width="4.4"/>
<path d="M804 224.5C800.8 227.3 799.4 229.3 792.5 230.2C788.5 230.7 788.8 230.7 785 230.7L609 230.7" fill="none" stroke="#ec6c2a" stroke-width="1.6" />
<ellipse cx="792.5" cy="230.2" rx="3.5" ry="1.9" fill="#ec6c2a" transform="rotate(172.4 792.5 230.2)"/>
<line x1="837" y1="230.7" x2="876" y2="230.7" stroke="#fdece1" stroke-width="4.4"/>
<path d="M812 224.5C815.2 227.3 816.6 229.3 823.5 230.2C827.5 230.7 827.2 230.7 831 230.7L876 230.7" fill="none" stroke="#ec6c2a" stroke-width="1.6" />
<ellipse cx="823.5" cy="230.2" rx="3.5" ry="1.9" fill="#ec6c2a" transform="rotate(7.6 823.5 230.2)"/>
<line x1="779" y1="258.6" x2="609" y2="258.6" stroke="#fdece1" stroke-width="4.4"/>
<path d="M804 252.5C800.8 255.3 799.4 257.2 792.5 258.1C788.5 258.6 788.8 258.6 785 258.6L609 258.6" fill="none" stroke="#ec6c2a" stroke-width="1.6" />
<ellipse cx="792.5" cy="258.1" rx="3.5" ry="1.9" fill="#ec6c2a" transform="rotate(172.4 792.5 258.1)"/>
<line x1="837" y1="258.6" x2="876" y2="258.6" stroke="#fdece1" stroke-width="4.4"/>
<path d="M812 252.5C815.2 255.3 816.6 257.2 823.5 258.1C827.5 258.6 827.2 258.6 831 258.6L876 258.6" fill="none" stroke="#ec6c2a" stroke-width="1.6" />
<ellipse cx="823.5" cy="258.1" rx="3.5" ry="1.9" fill="#ec6c2a" transform="rotate(7.6 823.5 258.1)"/>
<line x1="779" y1="290.7" x2="609" y2="290.7" stroke="#fdece1" stroke-width="4.4"/>
<path d="M804 284.5C800.8 287.4 799.4 289.3 792.5 290.2C788.5 290.7 788.8 290.7 785 290.7L609 290.7" fill="none" stroke="#ec6c2a" stroke-width="1.6" />
<ellipse cx="792.5" cy="290.2" rx="3.5" ry="1.9" fill="#ec6c2a" transform="rotate(172.4 792.5 290.2)"/>
<line x1="837" y1="290.7" x2="876" y2="290.7" stroke="#fdece1" stroke-width="4.4"/>
<path d="M812 284.5C815.2 287.4 816.6 289.3 823.5 290.2C827.5 290.7 827.2 290.7 831 290.7L876 290.7" fill="none" stroke="#ec6c2a" stroke-width="1.6" />
<ellipse cx="823.5" cy="290.2" rx="3.5" ry="1.9" fill="#ec6c2a" transform="rotate(7.6 823.5 290.2)"/>
<line x1="779" y1="319.5" x2="609" y2="319.5" stroke="#fdece1" stroke-width="4.4"/>
<path d="M804 313C800.8 316 799.4 318.1 792.5 319C788.5 319.5 788.8 319.5 785 319.5L609 319.5" fill="none" stroke="#ec6c2a" stroke-width="1.6" />
<ellipse cx="792.5" cy="319" rx="3.5" ry="1.9" fill="#ec6c2a" transform="rotate(172.4 792.5 319)"/>
<line x1="837" y1="319.5" x2="876" y2="319.5" stroke="#fdece1" stroke-width="4.4"/>
<path d="M812 313C815.2 316 816.6 318.1 823.5 319C827.5 319.5 827.2 319.5 831 319.5L876 319.5" fill="none" stroke="#ec6c2a" stroke-width="1.6" />
<ellipse cx="823.5" cy="319" rx="3.5" ry="1.9" fill="#ec6c2a" transform="rotate(7.6 823.5 319)"/>
<line x1="779" y1="352.6" x2="609" y2="352.6" stroke="#fdece1" stroke-width="4.4"/>
<path d="M804 346.5C800.8 349.3 799.4 351.2 792.5 352.1C788.5 352.6 788.8 352.6 785 352.6L609 352.6" fill="none" stroke="#ec6c2a" stroke-width="1.6" />
<ellipse cx="792.5" cy="352.1" rx="3.5" ry="1.9" fill="#ec6c2a" transform="rotate(172.4 792.5 352.1)"/>
<line x1="837" y1="352.6" x2="876" y2="352.6" stroke="#fdece1" stroke-width="4.4"/>
<path d="M812 346.5C815.2 349.3 816.6 351.2 823.5 352.1C827.5 352.6 827.2 352.6 831 352.6L876 352.6" fill="none" stroke="#ec6c2a" stroke-width="1.6" />
<ellipse cx="823.5" cy="352.1" rx="3.5" ry="1.9" fill="#ec6c2a" transform="rotate(7.6 823.5 352.1)"/>
<line x1="778" y1="384.4" x2="609" y2="384.4" stroke="#fdece1" stroke-width="4.4"/>
<path d="M804 376C800.9 379.4 799.6 380.5 793 382.8C789.2 384.1 788.5 384.4 784 384.4L609 384.4" fill="none" stroke="#ec6c2a" stroke-width="1.6" />
<ellipse cx="793" cy="382.8" rx="3.5" ry="1.9" fill="#ec6c2a" transform="rotate(160.4 793 382.8)"/>
<line x1="838" y1="384.4" x2="876" y2="384.4" stroke="#fdece1" stroke-width="4.4"/>
<path d="M812 376C815.1 379.4 816.4 380.5 823 382.8C826.8 384.1 827.5 384.4 832 384.4L876 384.4" fill="none" stroke="#ec6c2a" stroke-width="1.6" />
<ellipse cx="823" cy="382.8" rx="3.5" ry="1.9" fill="#ec6c2a" transform="rotate(19.6 823 382.8)"/>
<line x1="775" y1="418.4" x2="609" y2="418.4" stroke="#fdece1" stroke-width="4.4"/>
<path d="M803.5 405C800.6 409.6 798.7 410.2 793 414.2C789.7 416.5 787 418.4 781 418.4L609 418.4" fill="none" stroke="#ec6c2a" stroke-width="1.6" />
<ellipse cx="793" cy="414.2" rx="3.5" ry="1.9" fill="#ec6c2a" transform="rotate(145 793 414.2)"/>
<line x1="841" y1="418.4" x2="876" y2="418.4" stroke="#fdece1" stroke-width="4.4"/>
<path d="M812.5 405C815.4 409.6 817.3 410.2 823 414.2C826.3 416.5 829 418.4 835 418.4L876 418.4" fill="none" stroke="#ec6c2a" stroke-width="1.6" />
<ellipse cx="823" cy="414.2" rx="3.5" ry="1.9" fill="#ec6c2a" transform="rotate(35 823 414.2)"/>
<line x1="770" y1="449.3" x2="609" y2="449.3" stroke="#fdece1" stroke-width="4.4"/>
<path d="M803.5 431C800.3 437.5 798.1 440.2 792.2 444C788.9 446.2 784.1 449.3 776 449.3L609 449.3" fill="none" stroke="#ec6c2a" stroke-width="1.6" />
<ellipse cx="792.2" cy="444" rx="3.5" ry="1.9" fill="#ec6c2a" transform="rotate(146.8 792.2 444)"/>
<line x1="846" y1="449.3" x2="876" y2="449.3" stroke="#fdece1" stroke-width="4.4"/>
<path d="M812.5 431C815.7 437.5 817.9 440.2 823.8 444C827.1 446.2 831.9 449.3 840 449.3L876 449.3" fill="none" stroke="#ec6c2a" stroke-width="1.6" />
<ellipse cx="823.8" cy="444" rx="3.5" ry="1.9" fill="#ec6c2a" transform="rotate(33.2 823.8 444)"/>
<line x1="764" y1="485" x2="609" y2="485" stroke="#fdece1" stroke-width="4.4"/>
<path d="M800 466C797.6 471.9 797.2 473.8 791.4 477.7C788.1 480 780.7 485 770 485L609 485" fill="none" stroke="#ec6c2a" stroke-width="1.6" />
<ellipse cx="791.4" cy="477.7" rx="3.5" ry="1.9" fill="#ec6c2a" transform="rotate(145.7 791.4 477.7)"/>
<line x1="852" y1="485" x2="876" y2="485" stroke="#fdece1" stroke-width="4.4"/>
<path d="M816 466C818.4 471.9 818.8 473.8 824.6 477.7C827.9 480 835.3 485 846 485L876 485" fill="none" stroke="#ec6c2a" stroke-width="1.6" />
<ellipse cx="824.6" cy="477.7" rx="3.5" ry="1.9" fill="#ec6c2a" transform="rotate(34.3 824.6 477.7)"/>
<line x1="754" y1="528" x2="609" y2="528" stroke="#fdece1" stroke-width="4.4"/>
<path d="M798 495C795.4 503.8 793.6 507.5 788.8 512.6C786.1 515.5 774.4 528 760 528L609 528" fill="none" stroke="#ec6c2a" stroke-width="1.6" />
<ellipse cx="788.8" cy="512.6" rx="3.5" ry="1.9" fill="#ec6c2a" transform="rotate(133.1 788.8 512.6)"/>
<line x1="862" y1="528" x2="876" y2="528" stroke="#fdece1" stroke-width="4.4"/>
<path d="M818 495C820.6 503.8 822.4 507.5 827.2 512.6C829.9 515.5 841.6 528 856 528L876 528" fill="none" stroke="#ec6c2a" stroke-width="1.6" />
<ellipse cx="827.2" cy="512.6" rx="3.5" ry="1.9" fill="#ec6c2a" transform="rotate(46.9 827.2 512.6)"/>
<line x1="750" y1="569.3" x2="609" y2="569.3" stroke="#fdece1" stroke-width="4.4"/>
<path d="M797.5 522C795.8 528 794.5 527.7 791.4 534C789.6 537.6 773.7 569.3 756 569.3L609 569.3" fill="none" stroke="#ec6c2a" stroke-width="1.6" />
<ellipse cx="791.4" cy="534" rx="3.5" ry="1.9" fill="#ec6c2a" transform="rotate(116.6 791.4 534)"/>
<line x1="866" y1="569.3" x2="876" y2="569.3" stroke="#fdece1" stroke-width="4.4"/>
<path d="M818.5 522C820.2 528 821.5 527.7 824.6 534C826.4 537.6 842.3 569.3 860 569.3L876 569.3" fill="none" stroke="#ec6c2a" stroke-width="1.6" />
<ellipse cx="824.6" cy="534" rx="3.5" ry="1.9" fill="#ec6c2a" transform="rotate(63.4 824.6 534)"/>
<path d="M797.5 538.4C796.4 539.1 792.6 540.7 790.6 542.7C788.6 544.7 786.9 547.6 785.7 550.6C784.5 553.6 784 554.9 783.6 561C783.2 567.1 783.4 579.9 783.2 587.2C783 594.5 782.5 601.7 782.4 604.6" fill="none" stroke="#cfeccf" stroke-width="4.2" />
<path d="M818.5 538.4C819.6 539.1 823.4 540.7 825.4 542.7C827.4 544.7 829.1 547.6 830.3 550.6C831.5 553.6 832 554.9 832.4 561C832.8 567.1 832.6 579.9 832.8 587.2C833 594.5 833.5 601.7 833.6 604.6" fill="none" stroke="#cfeccf" stroke-width="4.2" />
<path d="M797.5 547C796.5 547.9 792.9 550 791.4 552.3C789.9 554.6 789.2 556.6 788.5 561C787.8 565.4 787.6 570.3 787.4 578.5C787.2 586.7 787.1 599.8 787.1 610C787.1 620.2 787.3 632.5 787.1 639.5C786.9 646.5 785.9 649.7 785.7 651.7" fill="none" stroke="#cfeccf" stroke-width="4.2" />
<path d="M818.5 547C819.5 547.9 823.1 550 824.6 552.3C826.1 554.6 826.8 556.6 827.5 561C828.2 565.4 828.4 570.3 828.6 578.5C828.8 586.7 828.9 599.8 828.9 610C828.9 620.2 828.7 632.5 828.9 639.5C829.1 646.5 830.1 649.7 830.3 651.7" fill="none" stroke="#cfeccf" stroke-width="4.2" />
<path d="M798.4 555.8C797.5 556.7 794.5 558.7 793.2 561C792 563.3 791.4 564.9 790.9 569.7C790.4 574.5 790.6 578.3 790.5 590C790.4 601.7 790.4 624 790.2 640C790 656 790 676.2 789.5 686.2C789 696.2 787.5 697.8 787.1 700.1" fill="none" stroke="#cfeccf" stroke-width="4.2" />
<path d="M817.6 555.8C818.5 556.7 821.5 558.7 822.8 561C824 563.3 824.6 564.9 825.1 569.7C825.6 574.5 825.4 578.3 825.5 590C825.6 601.7 825.6 624 825.8 640C826 656 826 676.2 826.5 686.2C827 696.2 828.5 697.8 828.9 700.1" fill="none" stroke="#cfeccf" stroke-width="4.2" />
<path d="M799.3 564.5C798.6 565.4 796.4 567.4 795.4 569.7C794.4 572 793.8 573.5 793.4 578.5C793 583.5 793 586.4 792.9 600C792.8 613.6 792.6 641.3 792.5 660C792.4 678.7 792.3 700.7 792 712.3C791.7 723.9 791.4 724.5 790.6 729.7C789.8 734.9 787.7 741.4 787.1 743.7" fill="none" stroke="#cfeccf" stroke-width="4.2" />
<path d="M816.7 564.5C817.4 565.4 819.6 567.4 820.6 569.7C821.6 572 822.2 573.5 822.6 578.5C823 583.5 823 586.4 823.1 600C823.2 613.6 823.4 641.3 823.5 660C823.6 678.7 823.7 700.7 824 712.3C824.3 723.9 824.6 724.5 825.4 729.7C826.2 734.9 828.3 741.4 828.9 743.7" fill="none" stroke="#cfeccf" stroke-width="4.2" />
<path d="M800.2 573.2C799.7 574.1 797.9 576.2 797.2 578.5C796.5 580.8 796.1 582 795.8 587.2C795.5 592.5 795.5 597.9 795.4 610C795.3 622.1 795.2 640 795 660C794.8 680 794.9 712.3 794.4 729.7C793.9 747.1 793.4 755.9 792.3 764.6C791.2 773.3 789.5 777.3 788 782C786.5 786.7 783.8 791.2 783 793" fill="none" stroke="#cfeccf" stroke-width="4.2" />
<path d="M815.8 573.2C816.3 574.1 818.1 576.2 818.8 578.5C819.5 580.8 819.9 582 820.2 587.2C820.5 592.5 820.5 597.9 820.6 610C820.7 622.1 820.8 640 821 660C821.2 680 821.1 712.3 821.6 729.7C822.1 747.1 822.6 755.9 823.7 764.6C824.8 773.3 826.5 777.3 828 782C829.5 786.7 832.2 791.2 833 793" fill="none" stroke="#cfeccf" stroke-width="4.2" />
<path d="M800.2 588C800 590 799.4 593.8 799 600C798.6 606.2 798.2 615 798 625C797.8 635 797.7 634.2 797.6 660C797.5 685.8 797.4 753.3 797.6 780C797.8 806.7 798.1 808.3 798.6 820C799.1 831.7 799.8 840 800.5 850C801.2 860 801.9 870.8 802.6 880C803.3 889.2 804 897.5 804.6 905C805.2 912.5 805.9 919.8 806.4 925C806.9 930.2 807.4 934.2 807.6 936L808.4 936C808.6 934.2 809.1 930.2 809.6 925C810.1 919.8 810.8 912.5 811.4 905C812 897.5 812.7 889.2 813.4 880C814.1 870.8 814.8 860 815.5 850C816.2 840 816.9 831.7 817.4 820C817.9 808.3 818.2 806.7 818.4 780C818.6 753.3 818.5 685.8 818.4 660C818.3 634.2 818.2 635 818 625C817.8 615 817.4 606.2 817 600C816.6 593.8 816 590 815.8 588Z" fill="#93a8df" stroke="none" stroke-width="1" />
<path d="M800 586.5C797.6 590 797.4 596 797.6 604L800.6 601C800.4 596 800.2 591 800.1 587Z" fill="#f2f4fc" stroke="none" stroke-width="1" />
<path d="M816 586.5C818.4 590 818.6 596 818.4 604L815.4 601C815.6 596 815.8 591 815.9 587Z" fill="#f2f4fc" stroke="none" stroke-width="1" />
<path d="M800.4 583C798.4 585 797.8 588 797.8 593 L797.8 790" fill="none" stroke="#4a5b9c" stroke-width="0.8" />
<path d="M815.6 583C817.6 585 818.2 588 818.2 593 L818.2 790" fill="none" stroke="#4a5b9c" stroke-width="0.8" />
<path d="M802.6 590C800.6 592 800 595 800 600 L800 812" fill="none" stroke="#4a5b9c" stroke-width="0.8" />
<path d="M813.4 590C815.4 592 816 595 816 600 L816 812" fill="none" stroke="#4a5b9c" stroke-width="0.8" />
<path d="M805 601C803 603 802.4 606 802.4 611 L802.4 838" fill="none" stroke="#6a7fc4" stroke-width="0.8" />
<path d="M811 601C813 603 813.6 606 813.6 611 L813.6 838" fill="none" stroke="#6a7fc4" stroke-width="0.8" />
<path d="M807.4 615C805.4 617 804.8 620 804.8 625 L804.8 866" fill="none" stroke="#7d90d0" stroke-width="0.8" />
<path d="M808.6 615C810.6 617 811.2 620 811.2 625 L811.2 866" fill="none" stroke="#7d90d0" stroke-width="0.8" />
<line x1="755.2" y1="623" x2="609" y2="623" stroke="#e3f5e3" stroke-width="4.4"/>
<path d="M797.5 538.4C796.4 539.1 792.6 540.7 790.6 542.7C788.6 544.7 786.9 547.6 785.7 550.6C784.5 553.6 784 554.9 783.6 561C783.2 567.1 783.4 579.9 783.2 587.2C783 594.5 782.8 600.5 782.4 604.6C782 608.7 781.8 609.3 781 611.6C780.2 613.9 779.4 616.8 777.5 618.6C775.6 620.4 772.6 621.7 769.6 622.4C766.6 623.1 760.9 622.9 759.2 623L609 623" fill="none" stroke="#3aaa52" stroke-width="1.3" stroke-linejoin="round"/>
<ellipse cx="781" cy="611.6" rx="2.6" ry="1.6" fill="#3aaa52" transform="rotate(109.3 781 611.6)"/>
<line x1="860.8" y1="623" x2="876" y2="623" stroke="#e3f5e3" stroke-width="4.4"/>
<path d="M818.5 538.4C819.6 539.1 823.4 540.7 825.4 542.7C827.4 544.7 829.1 547.6 830.3 550.6C831.5 553.6 832 554.9 832.4 561C832.8 567.1 832.6 579.9 832.8 587.2C833 594.5 833.2 600.5 833.6 604.6C834 608.7 834.2 609.3 835 611.6C835.8 613.9 836.6 616.8 838.5 618.6C840.4 620.4 843.4 621.7 846.4 622.4C849.4 623.1 855.1 622.9 856.8 623L876 623" fill="none" stroke="#3aaa52" stroke-width="1.3" stroke-linejoin="round"/>
<ellipse cx="835" cy="611.6" rx="2.6" ry="1.6" fill="#3aaa52" transform="rotate(70.7 835 611.6)"/>
<line x1="755" y1="671.5" x2="609" y2="671.5" stroke="#e3f5e3" stroke-width="4.4"/>
<path d="M797.5 547C796.5 547.9 792.9 550 791.4 552.3C789.9 554.6 789.2 556.6 788.5 561C787.8 565.4 787.6 570.3 787.4 578.5C787.2 586.7 787.1 599.8 787.1 610C787.1 620.2 787.3 632.5 787.1 639.5C786.9 646.5 786.6 648.4 785.7 651.7C784.8 655 783.2 656.9 781.5 659.5C779.8 662.1 778 665.3 775.7 667.2C773.4 669.1 770.7 670.3 767.9 671C765.1 671.7 760.5 671.4 759 671.5L609 671.5" fill="none" stroke="#3aaa52" stroke-width="1.3" stroke-linejoin="round"/>
<ellipse cx="781.5" cy="659.5" rx="2.6" ry="1.6" fill="#3aaa52" transform="rotate(122.8 781.5 659.5)"/>
<line x1="861" y1="671.5" x2="876" y2="671.5" stroke="#e3f5e3" stroke-width="4.4"/>
<path d="M818.5 547C819.5 547.9 823.1 550 824.6 552.3C826.1 554.6 826.8 556.6 827.5 561C828.2 565.4 828.4 570.3 828.6 578.5C828.8 586.7 828.9 599.8 828.9 610C828.9 620.2 828.7 632.5 828.9 639.5C829.1 646.5 829.4 648.4 830.3 651.7C831.2 655 832.8 656.9 834.5 659.5C836.2 662.1 838 665.3 840.3 667.2C842.6 669.1 845.3 670.3 848.1 671C850.9 671.7 855.5 671.4 857 671.5L876 671.5" fill="none" stroke="#3aaa52" stroke-width="1.3" stroke-linejoin="round"/>
<ellipse cx="834.5" cy="659.5" rx="2.6" ry="1.6" fill="#3aaa52" transform="rotate(57.2 834.5 659.5)"/>
<line x1="756.9" y1="718.9" x2="609" y2="718.9" stroke="#e3f5e3" stroke-width="4.4"/>
<path d="M798.4 555.8C797.5 556.7 794.5 558.7 793.2 561C792 563.3 791.4 564.9 790.9 569.7C790.4 574.5 790.6 578.3 790.5 590C790.4 601.7 790.4 624 790.2 640C790 656 790 676.2 789.5 686.2C789 696.2 788 696.6 787.1 700.1C786.2 703.6 785.5 704.9 783.9 707.4C782.3 709.9 779.9 713 777.5 714.9C775.1 716.8 772.4 717.8 769.6 718.5C766.8 719.2 762.4 718.8 760.9 718.9L609 718.9" fill="none" stroke="#3aaa52" stroke-width="1.3" stroke-linejoin="round"/>
<ellipse cx="783.9" cy="707.4" rx="2.6" ry="1.6" fill="#3aaa52" transform="rotate(123 783.9 707.4)"/>
<line x1="859.1" y1="718.9" x2="876" y2="718.9" stroke="#e3f5e3" stroke-width="4.4"/>
<path d="M817.6 555.8C818.5 556.7 821.5 558.7 822.8 561C824 563.3 824.6 564.9 825.1 569.7C825.6 574.5 825.4 578.3 825.5 590C825.6 601.7 825.6 624 825.8 640C826 656 826 676.2 826.5 686.2C827 696.2 828 696.6 828.9 700.1C829.8 703.6 830.5 704.9 832.1 707.4C833.7 709.9 836.1 713 838.5 714.9C840.9 716.8 843.6 717.8 846.4 718.5C849.2 719.2 853.6 718.8 855.1 718.9L876 718.9" fill="none" stroke="#3aaa52" stroke-width="1.3" stroke-linejoin="round"/>
<ellipse cx="832.1" cy="707.4" rx="2.6" ry="1.6" fill="#3aaa52" transform="rotate(57 832.1 707.4)"/>
<line x1="758.7" y1="763.8" x2="609" y2="763.8" stroke="#e3f5e3" stroke-width="4.4"/>
<path d="M799.3 564.5C798.6 565.4 796.4 567.4 795.4 569.7C794.4 572 793.8 573.5 793.4 578.5C793 583.5 793 586.4 792.9 600C792.8 613.6 792.6 641.3 792.5 660C792.4 678.7 792.3 700.7 792 712.3C791.7 723.9 791.4 724.5 790.6 729.7C789.8 734.9 788.6 739.6 787.1 743.7C785.6 747.8 783.8 751.3 781.8 754.2C779.8 757.1 777.2 759.6 774.9 761.1C772.6 762.6 770 763 768 763.4C766 763.8 763.6 763.7 762.7 763.8L609 763.8" fill="none" stroke="#3aaa52" stroke-width="1.3" stroke-linejoin="round"/>
<ellipse cx="781.8" cy="754.2" rx="2.6" ry="1.6" fill="#3aaa52" transform="rotate(125 781.8 754.2)"/>
<line x1="857.3" y1="763.8" x2="876" y2="763.8" stroke="#e3f5e3" stroke-width="4.4"/>
<path d="M816.7 564.5C817.4 565.4 819.6 567.4 820.6 569.7C821.6 572 822.2 573.5 822.6 578.5C823 583.5 823 586.4 823.1 600C823.2 613.6 823.4 641.3 823.5 660C823.6 678.7 823.7 700.7 824 712.3C824.3 723.9 824.6 724.5 825.4 729.7C826.2 734.9 827.4 739.6 828.9 743.7C830.4 747.8 832.2 751.3 834.2 754.2C836.2 757.1 838.8 759.6 841.1 761.1C843.4 762.6 846 763 848 763.4C850 763.8 852.4 763.7 853.3 763.8L876 763.8" fill="none" stroke="#3aaa52" stroke-width="1.3" stroke-linejoin="round"/>
<ellipse cx="834.2" cy="754.2" rx="2.6" ry="1.6" fill="#3aaa52" transform="rotate(55 834.2 754.2)"/>
<line x1="755.2" y1="810.7" x2="609" y2="810.7" stroke="#e3f5e3" stroke-width="4.4"/>
<path d="M800.2 573.2C799.7 574.1 797.9 576.2 797.2 578.5C796.5 580.8 796.1 582 795.8 587.2C795.5 592.5 795.5 597.9 795.4 610C795.3 622.1 795.2 640 795 660C794.8 680 794.9 712.3 794.4 729.7C793.9 747.1 793.4 755.9 792.3 764.6C791.2 773.3 789.5 777.3 788 782C786.5 786.7 784.5 789.9 783 793C781.5 796.1 780.6 798 778.7 800.4C776.8 802.8 773.7 805.7 771.4 807.3C769.1 808.9 767 809.6 765 810.2C763 810.8 760.2 810.6 759.2 810.7L609 810.7" fill="none" stroke="#3aaa52" stroke-width="1.3" stroke-linejoin="round"/>
<ellipse cx="778.7" cy="800.4" rx="2.6" ry="1.6" fill="#3aaa52" transform="rotate(129 778.7 800.4)"/>
<line x1="860.8" y1="810.7" x2="876" y2="810.7" stroke="#e3f5e3" stroke-width="4.4"/>
<path d="M815.8 573.2C816.3 574.1 818.1 576.2 818.8 578.5C819.5 580.8 819.9 582 820.2 587.2C820.5 592.5 820.5 597.9 820.6 610C820.7 622.1 820.8 640 821 660C821.2 680 821.1 712.3 821.6 729.7C822.1 747.1 822.6 755.9 823.7 764.6C824.8 773.3 826.5 777.3 828 782C829.5 786.7 831.5 789.9 833 793C834.5 796.1 835.4 798 837.3 800.4C839.2 802.8 842.3 805.7 844.6 807.3C846.9 808.9 849 809.6 851 810.2C853 810.8 855.8 810.6 856.8 810.7L876 810.7" fill="none" stroke="#3aaa52" stroke-width="1.3" stroke-linejoin="round"/>
<ellipse cx="837.3" cy="800.4" rx="2.6" ry="1.6" fill="#3aaa52" transform="rotate(51 837.3 800.4)"/>
<line x1="767.4" y1="833" x2="609" y2="833" stroke="#eceffa" stroke-width="4.4"/>
<path d="M798 770C798 772.5 798 780.1 797.8 785C797.6 789.9 797.3 794.8 796.7 799.5C796.1 804.2 795.2 809.3 794.1 813.4C793 817.5 792 821.1 790.2 823.9C788.5 826.7 785.8 828.8 783.6 830.3C781.4 831.8 779 832.1 777 832.6C775 833.1 772.3 832.9 771.4 833L609 833" fill="none" stroke="#4a5b9c" stroke-width="1.1" stroke-linejoin="round"/>
<ellipse cx="790.2" cy="823.9" rx="2.8" ry="1.8" fill="#2a55a8" transform="rotate(121.9 790.2 823.9)"/>
<line x1="848.6" y1="833" x2="876" y2="833" stroke="#eceffa" stroke-width="4.4"/>
<path d="M818 770C818 772.5 818 780.1 818.2 785C818.4 789.9 818.7 794.8 819.3 799.5C819.9 804.2 820.8 809.3 821.9 813.4C823 817.5 824 821.1 825.8 823.9C827.5 826.7 830.2 828.8 832.4 830.3C834.6 831.8 837 832.1 839 832.6C841 833.1 843.7 832.9 844.6 833L876 833" fill="none" stroke="#4a5b9c" stroke-width="1.1" stroke-linejoin="round"/>
<ellipse cx="825.8" cy="823.9" rx="2.8" ry="1.8" fill="#2a55a8" transform="rotate(58.1 825.8 823.9)"/>
<line x1="767.4" y1="850" x2="609" y2="850" stroke="#eceffa" stroke-width="4.4"/>
<path d="M799.6 790C799.5 792.7 799.6 800.5 799.2 806C798.9 811.5 798.2 817.9 797.5 822.7C796.8 827.5 796 831.7 794.9 834.9C793.8 838.1 792.5 839.7 790.6 841.8C788.7 843.9 785.9 846.3 783.6 847.6C781.3 848.9 779 849.2 777 849.6C775 850 772.3 849.9 771.4 850L609 850" fill="none" stroke="#4a5b9c" stroke-width="1.1" stroke-linejoin="round"/>
<ellipse cx="790.6" cy="841.8" rx="2.8" ry="1.8" fill="#2a55a8" transform="rotate(131.7 790.6 841.8)"/>
<line x1="848.6" y1="850" x2="876" y2="850" stroke="#eceffa" stroke-width="4.4"/>
<path d="M816.4 790C816.5 792.7 816.4 800.5 816.8 806C817.1 811.5 817.8 817.9 818.5 822.7C819.2 827.5 820 831.7 821.1 834.9C822.2 838.1 823.5 839.7 825.4 841.8C827.3 843.9 830.1 846.3 832.4 847.6C834.7 848.9 837 849.2 839 849.6C841 850 843.7 849.9 844.6 850L876 850" fill="none" stroke="#4a5b9c" stroke-width="1.1" stroke-linejoin="round"/>
<ellipse cx="825.4" cy="841.8" rx="2.8" ry="1.8" fill="#2a55a8" transform="rotate(48.3 825.4 841.8)"/>
<line x1="765.6" y1="877.8" x2="609" y2="877.8" stroke="#eceffa" stroke-width="4.4"/>
<path d="M801.8 812C801.8 814.7 801.9 821.9 801.6 828C801.3 834.1 801.2 842.7 800.2 848.8C799.2 854.9 798 860.4 795.8 864.5C793.6 868.6 789.7 871.2 787.1 873.2C784.5 875.2 782.3 876 780.1 876.8C777.9 877.5 775.8 877.5 774 877.7C772.2 877.9 770.3 877.8 769.6 877.8L609 877.8" fill="none" stroke="#4a5b9c" stroke-width="1.1" stroke-linejoin="round"/>
<ellipse cx="787.1" cy="873.2" rx="2.8" ry="1.8" fill="#2a55a8" transform="rotate(141.9 787.1 873.2)"/>
<line x1="850.4" y1="877.8" x2="876" y2="877.8" stroke="#eceffa" stroke-width="4.4"/>
<path d="M814.2 812C814.2 814.7 814.1 821.9 814.4 828C814.7 834.1 814.8 842.7 815.8 848.8C816.8 854.9 818 860.4 820.2 864.5C822.4 868.6 826.3 871.2 828.9 873.2C831.5 875.2 833.7 876 835.9 876.8C838.1 877.5 840.2 877.5 842 877.7C843.8 877.9 845.7 877.8 846.4 877.8L876 877.8" fill="none" stroke="#4a5b9c" stroke-width="1.1" stroke-linejoin="round"/>
<ellipse cx="828.9" cy="873.2" rx="2.8" ry="1.8" fill="#2a55a8" transform="rotate(38.1 828.9 873.2)"/>
<line x1="767.4" y1="904.7" x2="609" y2="904.7" stroke="#eceffa" stroke-width="4.4"/>
<path d="M803.8 838C803.8 841 803.9 849.2 803.6 856C803.3 862.8 802.9 872.4 801.9 878.5C800.9 884.6 799.4 888.8 797.5 892.4C795.6 896 793.1 898.4 790.6 900.3C788.1 902.2 785.1 903.3 782.7 904C780.3 904.7 777.9 904.5 776 904.6C774.1 904.7 772.2 904.7 771.4 904.7L609 904.7" fill="none" stroke="#4a5b9c" stroke-width="1.1" stroke-linejoin="round"/>
<ellipse cx="790.6" cy="900.3" rx="2.8" ry="1.8" fill="#2a55a8" transform="rotate(141.9 790.6 900.3)"/>
<line x1="848.6" y1="904.7" x2="876" y2="904.7" stroke="#eceffa" stroke-width="4.4"/>
<path d="M812.2 838C812.2 841 812.1 849.2 812.4 856C812.7 862.8 813.1 872.4 814.1 878.5C815.1 884.6 816.6 888.8 818.5 892.4C820.4 896 822.9 898.4 825.4 900.3C827.9 902.2 830.9 903.3 833.3 904C835.7 904.7 838.1 904.5 840 904.6C841.9 904.7 843.8 904.7 844.6 904.7L876 904.7" fill="none" stroke="#4a5b9c" stroke-width="1.1" stroke-linejoin="round"/>
<ellipse cx="825.4" cy="900.3" rx="2.8" ry="1.8" fill="#2a55a8" transform="rotate(38.1 825.4 900.3)"/>
<line x1="769.1" y1="925.2" x2="609" y2="925.2" stroke="#eceffa" stroke-width="4.4"/>
<path d="M805.6 864C805.6 867 805.6 876.1 805.4 882C805.2 887.9 805.2 894.6 804.2 899.4C803.2 904.2 801.3 907.2 799.3 910.7C797.3 914.2 794.9 918 792.3 920.3C789.7 922.6 786.1 923.5 783.6 924.3C781.1 925.1 778.8 925 777 925.1C775.2 925.2 773.8 925.2 773.1 925.2L609 925.2" fill="none" stroke="#4a5b9c" stroke-width="1.1" stroke-linejoin="round"/>
<ellipse cx="799.3" cy="910.7" rx="2.8" ry="1.8" fill="#2a55a8" transform="rotate(119.7 799.3 910.7)"/>
<line x1="846.9" y1="925.2" x2="876" y2="925.2" stroke="#eceffa" stroke-width="4.4"/>
<path d="M810.4 864C810.4 867 810.4 876.1 810.6 882C810.8 887.9 810.8 894.6 811.8 899.4C812.8 904.2 814.7 907.2 816.7 910.7C818.7 914.2 821.1 918 823.7 920.3C826.3 922.6 829.9 923.5 832.4 924.3C834.9 925.1 837.2 925 839 925.1C840.8 925.2 842.2 925.2 842.9 925.2L876 925.2" fill="none" stroke="#4a5b9c" stroke-width="1.1" stroke-linejoin="round"/>
<ellipse cx="816.7" cy="910.7" rx="2.8" ry="1.8" fill="#2a55a8" transform="rotate(60.3 816.7 910.7)"/>
<line x1="774.4" y1="955.6" x2="609" y2="955.6" stroke="#eceffa" stroke-width="4.4"/>
<path d="M807.2 890C807.2 893 807.2 902.1 807 908C806.8 913.9 806.7 920.5 806.1 925.5C805.5 930.5 804.7 934.2 803.6 937.7C802.5 941.2 801.5 943.9 799.3 946.5C797.1 949.1 793.3 951.9 790.6 953.4C787.9 954.9 785 954.9 783 955.3C781 955.7 779.2 955.5 778.4 955.6L609 955.6" fill="none" stroke="#4a5b9c" stroke-width="1.1" stroke-linejoin="round"/>
<ellipse cx="803.6" cy="937.7" rx="2.8" ry="1.8" fill="#2a55a8" transform="rotate(107.9 803.6 937.7)"/>
<line x1="841.6" y1="955.6" x2="876" y2="955.6" stroke="#eceffa" stroke-width="4.4"/>
<path d="M808.8 890C808.8 893 808.8 902.1 809 908C809.2 913.9 809.3 920.5 809.9 925.5C810.5 930.5 811.3 934.2 812.4 937.7C813.5 941.2 814.5 943.9 816.7 946.5C818.9 949.1 822.7 951.9 825.4 953.4C828.1 954.9 831 954.9 833 955.3C835 955.7 836.8 955.5 837.6 955.6L876 955.6" fill="none" stroke="#4a5b9c" stroke-width="1.1" stroke-linejoin="round"/>
<ellipse cx="812.4" cy="937.7" rx="2.8" ry="1.8" fill="#2a55a8" transform="rotate(72.1 812.4 937.7)"/>
<path d="M807.4 0.8C807.1 0.9 806.1 1.1 805.6 1.5C805.1 1.9 804.5 2.5 804.2 3.5C803.9 4.5 803.5 5.5 803.3 8C803.1 10.5 803 14.4 802.9 20C802.8 25.6 802.9 39.5 802.8 45C802.7 50.5 802.9 54.3 802.4 57C801.9 59.7 800.4 61.4 799.5 63C798.6 64.7 797 66.3 796.4 68C795.8 69.7 795.6 69.2 795.4 74C795.2 78.8 795.3 90.1 795.3 100C795.3 109.9 795.3 129.5 795.3 140C795.3 150.5 795.4 164.2 795.4 170C795.4 175.8 795.6 177.4 795.6 178.7L820.4 178.7C820.4 177.4 820.6 175.8 820.6 170C820.6 164.2 820.7 150.5 820.7 140C820.7 129.5 820.7 109.9 820.7 100C820.7 90.1 820.8 78.8 820.6 74C820.4 69.2 820.2 69.7 819.6 68C819 66.3 817.4 64.7 816.5 63C815.6 61.4 814.1 59.7 813.6 57C813.1 54.3 813.3 50.5 813.2 45C813.1 39.5 813.2 25.6 813.1 20C813 14.4 812.9 10.5 812.7 8C812.5 5.5 812.1 4.5 811.8 3.5C811.5 2.5 810.9 1.9 810.4 1.5C809.9 1.1 808.9 0.9 808.6 0.8Z" fill="#1290d9" stroke="#1290d9" stroke-width="0.4" />
<path d="M795.6 178.4C795.8 179.2 796.3 182 796.8 184C797.3 186 798.5 189.6 799.2 192C799.9 194.4 800.9 197.6 801.4 200C801.9 202.4 802.5 205.6 802.8 208C803.1 210.4 803.3 211.2 803.4 216C803.5 220.8 803.6 227.4 803.6 240C803.6 252.6 803.6 279 803.6 300C803.6 321 803.6 360.5 803.6 380C803.6 399.5 803.5 419.5 803.4 430C803.2 440.5 803.1 445.2 802.6 450C802.1 454.8 801.1 458.7 800.4 462C799.7 465.3 798.7 469 798.2 472C797.8 475 797.5 477.8 797.4 482C797.3 486.2 797.3 494.3 797.3 500C797.3 505.7 797.3 515 797.3 520C797.3 525 797.4 531.3 797.4 533.3L818.6 533.3C818.6 531.3 818.7 525 818.7 520C818.7 515 818.7 505.7 818.7 500C818.7 494.3 818.7 486.2 818.6 482C818.5 477.8 818.2 475 817.8 472C817.3 469 816.3 465.3 815.6 462C814.9 458.7 813.9 454.8 813.4 450C812.9 445.2 812.8 440.5 812.6 430C812.5 419.5 812.4 399.5 812.4 380C812.4 360.5 812.4 321 812.4 300C812.4 279 812.4 252.6 812.4 240C812.4 227.4 812.5 220.8 812.6 216C812.7 211.2 812.9 210.4 813.2 208C813.5 205.6 814.1 202.4 814.6 200C815.1 197.6 816.1 194.4 816.8 192C817.5 189.6 818.7 186 819.2 184C819.7 182 820.2 179.2 820.4 178.4Z" fill="#ec6c2a" stroke="#ec6c2a" stroke-width="0.4" />
<path d="M797.4 533C797.4 534.8 797.5 541 797.6 545C797.8 549 798.1 555.5 798.4 560C798.7 564.5 799.1 571.2 799.4 575C799.7 578.8 800.1 584 800.2 585.6L815.8 585.6C815.9 584 816.3 578.8 816.6 575C816.9 571.2 817.3 564.5 817.6 560C817.9 555.5 818.2 549 818.4 545C818.5 541 818.6 534.8 818.6 533Z" fill="#3aaa52" stroke="#3aaa52" stroke-width="0.4" />
<path d="M800.2 585.4L815.8 585.4C814.5 600 810.6 620 808 641.5C805.4 620 801.5 600 800.2 585.4Z" fill="#2a55a8" stroke="#2a55a8" stroke-width="0.4" />
<text x="808" y="23.2" font-size="8.8" font-weight="normal" text-anchor="middle" fill="#d8efff" stroke="#d8efff" stroke-width="0.3">1</text>
<text x="808" y="38.1" font-size="8.8" font-weight="normal" text-anchor="middle" fill="#d8efff" stroke="#d8efff" stroke-width="0.3">2</text>
<text x="808" y="54.6" font-size="8.8" font-weight="normal" text-anchor="middle" fill="#d8efff" stroke="#d8efff" stroke-width="0.3">3</text>
<text x="808" y="77.3" font-size="8.8" font-weight="normal" text-anchor="middle" fill="#d8efff" stroke="#d8efff" stroke-width="0.3">4</text>
<text x="808" y="100" font-size="8.8" font-weight="normal" text-anchor="middle" fill="#d8efff" stroke="#d8efff" stroke-width="0.3">5</text>
<text x="808" y="121.8" font-size="8.8" font-weight="normal" text-anchor="middle" fill="#d8efff" stroke="#d8efff" stroke-width="0.3">6</text>
<text x="808" y="145.3" font-size="8.8" font-weight="normal" text-anchor="middle" fill="#d8efff" stroke="#d8efff" stroke-width="0.3">7</text>
<text x="808" y="167.1" font-size="8.8" font-weight="normal" text-anchor="middle" fill="#d8efff" stroke="#d8efff" stroke-width="0.3">8</text>
<text x="808" y="193.2" font-size="8.8" font-weight="normal" text-anchor="middle" fill="#5e2c10" stroke="#5e2c10" stroke-width="0.3">1</text>
<text x="808" y="229" font-size="8.8" font-weight="normal" text-anchor="middle" fill="#5e2c10" stroke="#5e2c10" stroke-width="0.3">2</text>
<text x="808" y="256.9" font-size="8.8" font-weight="normal" text-anchor="middle" fill="#5e2c10" stroke="#5e2c10" stroke-width="0.3">3</text>
<text x="808" y="288.2" font-size="8.8" font-weight="normal" text-anchor="middle" fill="#5e2c10" stroke="#5e2c10" stroke-width="0.3">4</text>
<text x="808" y="317.1" font-size="8.8" font-weight="normal" text-anchor="middle" fill="#5e2c10" stroke="#5e2c10" stroke-width="0.3">5</text>
<text x="808" y="351.1" font-size="8.8" font-weight="normal" text-anchor="middle" fill="#5e2c10" stroke="#5e2c10" stroke-width="0.3">6</text>
<text x="808" y="380.7" font-size="8.8" font-weight="normal" text-anchor="middle" fill="#5e2c10" stroke="#5e2c10" stroke-width="0.3">7</text>
<text x="808" y="410.3" font-size="8.8" font-weight="normal" text-anchor="middle" fill="#5e2c10" stroke="#5e2c10" stroke-width="0.3">8</text>
<text x="808" y="439.1" font-size="8.8" font-weight="normal" text-anchor="middle" fill="#5e2c10" stroke="#5e2c10" stroke-width="0.3">9</text>
<text x="808" y="475.7" font-size="8.8" font-weight="normal" text-anchor="middle" fill="#5e2c10" stroke="#5e2c10" stroke-width="0.3">10</text>
<text x="808" y="501" font-size="8.8" font-weight="normal" text-anchor="middle" fill="#5e2c10" stroke="#5e2c10" stroke-width="0.3">11</text>
<text x="808" y="524.5" font-size="8.8" font-weight="normal" text-anchor="middle" fill="#5e2c10" stroke="#5e2c10" stroke-width="0.3">12</text>
<text x="808" y="540.5" font-size="8.2" font-weight="normal" text-anchor="middle" fill="#17522a" stroke="#17522a" stroke-width="0.3">1</text>
<text x="808" y="552.7" font-size="8.2" font-weight="normal" text-anchor="middle" fill="#17522a" stroke="#17522a" stroke-width="0.3">2</text>
<text x="808" y="563.2" font-size="8.2" font-weight="normal" text-anchor="middle" fill="#17522a" stroke="#17522a" stroke-width="0.3">3</text>
<text x="808" y="573.6" font-size="8.2" font-weight="normal" text-anchor="middle" fill="#17522a" stroke="#17522a" stroke-width="0.3">4</text>
<text x="808" y="583.2" font-size="8.2" font-weight="normal" text-anchor="middle" fill="#17522a" stroke="#17522a" stroke-width="0.3">5</text>
<text x="808" y="593" font-size="8.4" font-weight="normal" text-anchor="middle" fill="#e6ecff" stroke="#e6ecff" stroke-width="0.3">1</text>
<text x="808" y="601" font-size="8.4" font-weight="normal" text-anchor="middle" fill="#e6ecff" stroke="#e6ecff" stroke-width="0.3">2</text>
<text x="808" y="609.4" font-size="8.4" font-weight="normal" text-anchor="middle" fill="#e6ecff" stroke="#e6ecff" stroke-width="0.3">3</text>
<text x="808" y="618.1" font-size="8.4" font-weight="normal" text-anchor="middle" fill="#e6ecff" stroke="#e6ecff" stroke-width="0.3">4</text>
<text x="808" y="631.2" font-size="8.4" font-weight="normal" text-anchor="middle" fill="#e6ecff" stroke="#e6ecff" stroke-width="0.3">5</text>
<text x="0.5" y="40.5" font-size="13.8" font-weight="normal" text-anchor="start" fill="#2b2a29" letter-spacing="0.2" stroke="#2b2a29" stroke-width="0.28">Médula espinal</text>
<line x1="101.5" y1="36.5" x2="221.2" y2="36.5" stroke="#ffffff" stroke-width="3.2"/>
<line x1="100" y1="36.5" x2="221.2" y2="36.5" stroke="#36363b" stroke-width="1.2"/>
<text x="0" y="87.1" font-size="13.8" font-weight="bold" text-anchor="start" fill="#2b2a29" letter-spacing="0.2">Intumescencia</text>
<text x="0" y="102.9" font-size="13.8" font-weight="bold" text-anchor="start" fill="#2b2a29" letter-spacing="0.2">cervical</text>
<line x1="104.2" y1="84.5" x2="232.5" y2="84.5" stroke="#ffffff" stroke-width="3.2"/>
<line x1="102.7" y1="84.5" x2="232.5" y2="84.5" stroke="#36363b" stroke-width="1.2"/>
<text x="0" y="270.1" font-size="13.8" font-weight="normal" text-anchor="start" fill="#2b2a29" letter-spacing="0.2" stroke="#2b2a29" stroke-width="0.28">Conducto vertebral</text>
<text x="0" y="286.5" font-size="13.8" font-weight="normal" text-anchor="start" fill="#2b2a29" letter-spacing="0.2" stroke="#2b2a29" stroke-width="0.28">(espacio epidural)</text>
<line x1="124.8" y1="267.5" x2="202.2" y2="267.5" stroke="#ffffff" stroke-width="3.2"/>
<line x1="123.3" y1="267.5" x2="202.2" y2="267.5" stroke="#36363b" stroke-width="1.2"/>
<text x="0.5" y="338.7" font-size="13.8" font-weight="normal" text-anchor="start" fill="#2b2a29" letter-spacing="0.2" stroke="#2b2a29" stroke-width="0.28">Espacio</text>
<text x="0" y="354.4" font-size="13.8" font-weight="normal" text-anchor="start" fill="#2b2a29" letter-spacing="0.2" stroke="#2b2a29" stroke-width="0.28">subaracnoideo</text>
<line x1="56.3" y1="334" x2="162.2" y2="334" stroke="#ffffff" stroke-width="3.2"/>
<line x1="54.8" y1="334" x2="162.2" y2="334" stroke="#36363b" stroke-width="1.2"/>
<text x="0" y="557.1" font-size="13.8" font-weight="bold" text-anchor="start" fill="#2b2a29" letter-spacing="0.2">Intumescencia</text>
<text x="0" y="572.9" font-size="13.8" font-weight="bold" text-anchor="start" fill="#2b2a29" letter-spacing="0.2">lumbosacra</text>
<line x1="104.2" y1="553.5" x2="196" y2="553.5" stroke="#ffffff" stroke-width="3.2"/>
<line x1="102.7" y1="553.5" x2="196" y2="553.5" stroke="#36363b" stroke-width="1.2"/>
<text x="0" y="600.9" font-size="13.8" font-weight="normal" text-anchor="start" fill="#2b2a29" letter-spacing="0.2" stroke="#2b2a29" stroke-width="0.28">Cono</text>
<text x="0" y="616.5" font-size="13.8" font-weight="normal" text-anchor="start" fill="#2b2a29" letter-spacing="0.2" stroke="#2b2a29" stroke-width="0.28">medular</text>
<line x1="39.9" y1="596.9" x2="202.3" y2="631.3" stroke="#ffffff" stroke-width="3.2"/>
<line x1="38.4" y1="596.6" x2="202.3" y2="631.3" stroke="#36363b" stroke-width="1.2"/>
<path d="M197.4 608.2C195.5 607.8 194 608.6 195 610.6L211.8 647.2L215.8 647.2" fill="none" stroke="#55565c" stroke-width="1.1" />
<text x="0" y="641.5" font-size="13.8" font-weight="normal" text-anchor="start" fill="#2b2a29" letter-spacing="0.2" stroke="#2b2a29" stroke-width="0.28">Saco dural</text>
<text x="0" y="657.6" font-size="13.8" font-weight="normal" text-anchor="start" fill="#2b2a29" letter-spacing="0.2" stroke="#2b2a29" stroke-width="0.28">espinal</text>
<line x1="73.3" y1="639" x2="202" y2="685.9" stroke="#ffffff" stroke-width="3.2"/>
<line x1="71.8" y1="638.5" x2="202" y2="685.9" stroke="#36363b" stroke-width="1.2"/>
<text x="0" y="681.7" font-size="13.8" font-weight="bold" text-anchor="start" fill="#2b2a29" letter-spacing="0.2">Cisterna lumbar</text>
<text x="0" y="697.6" font-size="13.8" font-weight="normal" text-anchor="start" fill="#2b2a29" letter-spacing="0.2" stroke="#2b2a29" stroke-width="0.28">del espacio</text>
<text x="0" y="713.9" font-size="13.8" font-weight="normal" text-anchor="start" fill="#2b2a29" letter-spacing="0.2" stroke="#2b2a29" stroke-width="0.28">subaracnoideo</text>
<line x1="113.8" y1="679.1" x2="208.3" y2="698.3" stroke="#ffffff" stroke-width="3.2"/>
<line x1="112.3" y1="678.8" x2="208.3" y2="698.3" stroke="#36363b" stroke-width="1.2"/>
<text x="0" y="733.9" font-size="13.8" font-weight="normal" text-anchor="start" fill="#2b2a29" letter-spacing="0.2" stroke="#2b2a29" stroke-width="0.28">Cola de caballo</text>
<line x1="102.3" y1="729.1" x2="222.8" y2="729.1" stroke="#ffffff" stroke-width="3.2"/>
<line x1="100.8" y1="729.1" x2="222.8" y2="729.1" stroke="#36363b" stroke-width="1.2"/>
<text x="0.5" y="759" font-size="13.8" font-weight="normal" text-anchor="start" fill="#2b2a29" letter-spacing="0.2" stroke="#2b2a29" stroke-width="0.28">Porción pial</text>
<text x="0" y="774.9" font-size="13.8" font-weight="normal" text-anchor="start" fill="#2b2a29" letter-spacing="0.2" stroke="#2b2a29" stroke-width="0.28">del filum terminal</text>
<line x1="79" y1="755.5" x2="200.4" y2="755.5" stroke="#ffffff" stroke-width="3.2"/>
<line x1="77.5" y1="755.5" x2="200.4" y2="755.5" stroke="#36363b" stroke-width="1.2"/>
<text x="0.5" y="923.3" font-size="13.8" font-weight="normal" text-anchor="start" fill="#2b2a29" letter-spacing="0.2" stroke="#2b2a29" stroke-width="0.28">Porción dural</text>
<text x="0" y="939.1" font-size="13.8" font-weight="normal" text-anchor="start" fill="#2b2a29" letter-spacing="0.2" stroke="#2b2a29" stroke-width="0.28">del filum terminal</text>
<line x1="90.5" y1="920.5" x2="144.3" y2="920.5" stroke="#ffffff" stroke-width="3.2"/>
<line x1="89" y1="920.5" x2="144.3" y2="920.5" stroke="#36363b" stroke-width="1.2"/>
<text x="186.3" y="990.7" font-size="13.8" font-weight="bold" text-anchor="middle" fill="#2b2a29" letter-spacing="0.2">Vista lateral</text>
<text x="816.7" y="990.3" font-size="13.8" font-weight="bold" text-anchor="middle" fill="#2b2a29" letter-spacing="0.2">Vista anterior</text>
<text x="468" y="26.3" font-size="14" font-weight="normal" text-anchor="end" fill="#2b2a29" stroke="#2b2a29" stroke-width="0.25">C1</text>
<text x="468" y="181.9" font-size="14" font-weight="normal" text-anchor="end" fill="#2b2a29" stroke="#2b2a29" stroke-width="0.25">C8</text>
<text x="468" y="208.2" font-size="14" font-weight="normal" text-anchor="end" fill="#2b2a29" stroke="#2b2a29" stroke-width="0.25">T1</text>
<text x="468" y="575.3" font-size="14" font-weight="normal" text-anchor="end" fill="#2b2a29" stroke="#2b2a29" stroke-width="0.25">T12</text>
<text x="468" y="628.7" font-size="14" font-weight="normal" text-anchor="end" fill="#2b2a29" stroke="#2b2a29" stroke-width="0.25">L1</text>
<text x="468" y="815.6" font-size="14" font-weight="normal" text-anchor="end" fill="#2b2a29" stroke="#2b2a29" stroke-width="0.25">L5</text>
<text x="468" y="837.8" font-size="14" font-weight="normal" text-anchor="end" fill="#2b2a29" stroke="#2b2a29" stroke-width="0.25">S1</text>
<text x="468" y="929.6" font-size="14" font-weight="normal" text-anchor="end" fill="#2b2a29" stroke="#2b2a29" stroke-width="0.25">S5</text>
<path d="M473.5 19.5C478.5 19.5 482 20.5 482 28.5L482 92.4C482 96.4 485 98.9 490 99.4C485 99.9 482 102.4 482 106.4L482 169.5C482 177.5 478.5 178.5 473.5 178.5" fill="none" stroke="#4f5056" stroke-width="1.3" />
<path d="M473.5 203C478.5 203 482 204 482 212L482 369.4C482 373.4 485 375.9 490 376.4C485 376.9 482 379.4 482 383.4L482 563C482 571 478.5 572 473.5 572" fill="none" stroke="#4f5056" stroke-width="1.3" />
<path d="M473.5 623C478.5 623 482 624 482 632L482 710C482 714 485 716.5 490 717C485 717.5 482 720 482 724L482 803C482 811 478.5 812 473.5 812" fill="none" stroke="#4f5056" stroke-width="1.3" />
<path d="M473.5 833C478.5 833 482 834 482 842L482 880C482 884 485 886.5 490 887C485 887.5 482 890 482 894L482 917C482 925 478.5 926 473.5 926" fill="none" stroke="#4f5056" stroke-width="1.3" />
<path d="M606.5 17.5C601.5 17.5 597.5 18.5 597.5 26.5L597.5 92.4C597.5 96.4 594.5 98.9 589 99.4C594.5 99.9 597.5 102.4 597.5 106.4L597.5 167C597.5 175 601.5 176 606.5 176" fill="none" stroke="#4f5056" stroke-width="1.3" />
<path d="M606.5 200.5C601.5 200.5 597.5 201.5 597.5 209.5L597.5 369.4C597.5 373.4 594.5 375.9 589 376.4C594.5 376.9 597.5 379.4 597.5 383.4L597.5 562C597.5 570 601.5 571 606.5 571" fill="none" stroke="#4f5056" stroke-width="1.3" />
<path d="M606.5 622.5C601.5 622.5 597.5 623.5 597.5 631.5L597.5 710C597.5 714 594.5 716.5 589 717C594.5 717.5 597.5 720 597.5 724L597.5 803C597.5 811 601.5 812 606.5 812" fill="none" stroke="#4f5056" stroke-width="1.3" />
<path d="M606.5 833C601.5 833 597.5 834 597.5 842L597.5 880C597.5 884 594.5 886.5 589 887C594.5 887.5 597.5 890 597.5 894L597.5 918C597.5 926 601.5 927 606.5 927" fill="none" stroke="#4f5056" stroke-width="1.3" />
<path d="M473.5 941C481 942 482 946 482 949.6C482 953.6 485 955.1 490 955.6C485 956.1 482 957.6 482 961.6C482 963.5 481 967.5 473.5 968.5" fill="none" stroke="#4f5056" stroke-width="1.3" />
<path d="M606.5 941C598.5 942 597.5 946 597.5 949.6C597.5 953.6 594.5 955.1 589 955.6C594.5 956.1 597.5 957.6 597.5 961.6C597.5 963.5 598.5 967.5 606.5 968.5" fill="none" stroke="#4f5056" stroke-width="1.3" />
<text x="536" y="89.4" font-size="14" font-weight="normal" text-anchor="middle" fill="#2b2a29" letter-spacing="0.2" stroke="#2b2a29" stroke-width="0.28">Nervios</text>
<text x="536" y="105.9" font-size="14" font-weight="normal" text-anchor="middle" fill="#2b2a29" letter-spacing="0.2" stroke="#2b2a29" stroke-width="0.28">cervicales</text>
<text x="536" y="122.4" font-size="14" font-weight="normal" text-anchor="middle" fill="#2b2a29" letter-spacing="0.2" stroke="#2b2a29" stroke-width="0.28">(8 pares)</text>
<text x="536" y="367.7" font-size="14" font-weight="normal" text-anchor="middle" fill="#2b2a29" letter-spacing="0.2" stroke="#2b2a29" stroke-width="0.28">Nervios</text>
<text x="536" y="384.2" font-size="14" font-weight="normal" text-anchor="middle" fill="#2b2a29" letter-spacing="0.2" stroke="#2b2a29" stroke-width="0.28">torácicos</text>
<text x="536" y="400.7" font-size="14" font-weight="normal" text-anchor="middle" fill="#2b2a29" letter-spacing="0.2" stroke="#2b2a29" stroke-width="0.28">(12 pares)</text>
<text x="536" y="711.4" font-size="14" font-weight="normal" text-anchor="middle" fill="#2b2a29" letter-spacing="0.2" stroke="#2b2a29" stroke-width="0.28">Nervios</text>
<text x="536" y="727.9" font-size="14" font-weight="normal" text-anchor="middle" fill="#2b2a29" letter-spacing="0.2" stroke="#2b2a29" stroke-width="0.28">lumbares</text>
<text x="536" y="744.4" font-size="14" font-weight="normal" text-anchor="middle" fill="#2b2a29" letter-spacing="0.2" stroke="#2b2a29" stroke-width="0.28">(5 pares)</text>
<text x="536" y="875.9" font-size="14" font-weight="normal" text-anchor="middle" fill="#2b2a29" letter-spacing="0.2" stroke="#2b2a29" stroke-width="0.28">Nervios</text>
<text x="536" y="892.4" font-size="14" font-weight="normal" text-anchor="middle" fill="#2b2a29" letter-spacing="0.2" stroke="#2b2a29" stroke-width="0.28">sacros</text>
<text x="536" y="908.9" font-size="14" font-weight="normal" text-anchor="middle" fill="#2b2a29" letter-spacing="0.2" stroke="#2b2a29" stroke-width="0.28">(5 pares)</text>
<text x="536" y="943.4" font-size="14" font-weight="normal" text-anchor="middle" fill="#2b2a29" letter-spacing="0.2" stroke="#2b2a29" stroke-width="0.28">Nervio</text>
<text x="536" y="959.9" font-size="14" font-weight="normal" text-anchor="middle" fill="#2b2a29" letter-spacing="0.2" stroke="#2b2a29" stroke-width="0.28">coccígeo</text>
<text x="536" y="976.4" font-size="14" font-weight="normal" text-anchor="middle" fill="#2b2a29" letter-spacing="0.2" stroke="#2b2a29" stroke-width="0.28">(1 par)</text>
<rect x="355.3" y="1019.3" width="231.5" height="123.5" rx="6" fill="#a9a9a9"/>
<rect x="352.5" y="1016.5" width="231" height="123" rx="5" fill="#ffffff" stroke="#6e6e6e" stroke-width="1.2"/>
<path d="M352.5 1043.5V1021.5a5 5 0 0 1 5 -5H578.5a5 5 0 0 1 5 5V1043.5Z" fill="#7b7b7b" stroke="#6e6e6e" stroke-width="1.2"/>
<text x="360" y="1032.9" font-size="13.8" font-weight="bold" text-anchor="start" fill="#ffffff" letter-spacing="0.25">Nervios y ganglios</text>
<rect x="360.2" y="1052.7" width="29" height="5.6" fill="#1290d9"/>
<text x="395" y="1060.3" font-size="13.7" font-weight="normal" text-anchor="start" fill="#2b2a29" letter-spacing="0.3" stroke="#2b2a29" stroke-width="0.28">Nervios y ganglios cervicales</text>
<rect x="360.2" y="1069.4" width="29" height="5.6" fill="#ec6c2a"/>
<text x="395" y="1077" font-size="13.7" font-weight="normal" text-anchor="start" fill="#2b2a29" letter-spacing="0.3" stroke="#2b2a29" stroke-width="0.28">Nervios y ganglios torácicos</text>
<rect x="360.2" y="1086.2" width="29" height="5.6" fill="#3aaa52"/>
<text x="395" y="1093.8" font-size="13.7" font-weight="normal" text-anchor="start" fill="#2b2a29" letter-spacing="0.3" stroke="#2b2a29" stroke-width="0.28">Nervios y ganglios lumbares</text>
<rect x="360.2" y="1103.5" width="29" height="5.6" fill="#2a55a8"/>
<text x="395" y="1111.1" font-size="13.7" font-weight="normal" text-anchor="start" fill="#2b2a29" letter-spacing="0.3" stroke="#2b2a29" stroke-width="0.28">Nervios y ganglios sacros</text>
<text x="395" y="1128" font-size="13.7" font-weight="normal" text-anchor="start" fill="#2b2a29" letter-spacing="0.3" stroke="#2b2a29" stroke-width="0.28">y coccígeos</text>
</svg>
</body></html>
